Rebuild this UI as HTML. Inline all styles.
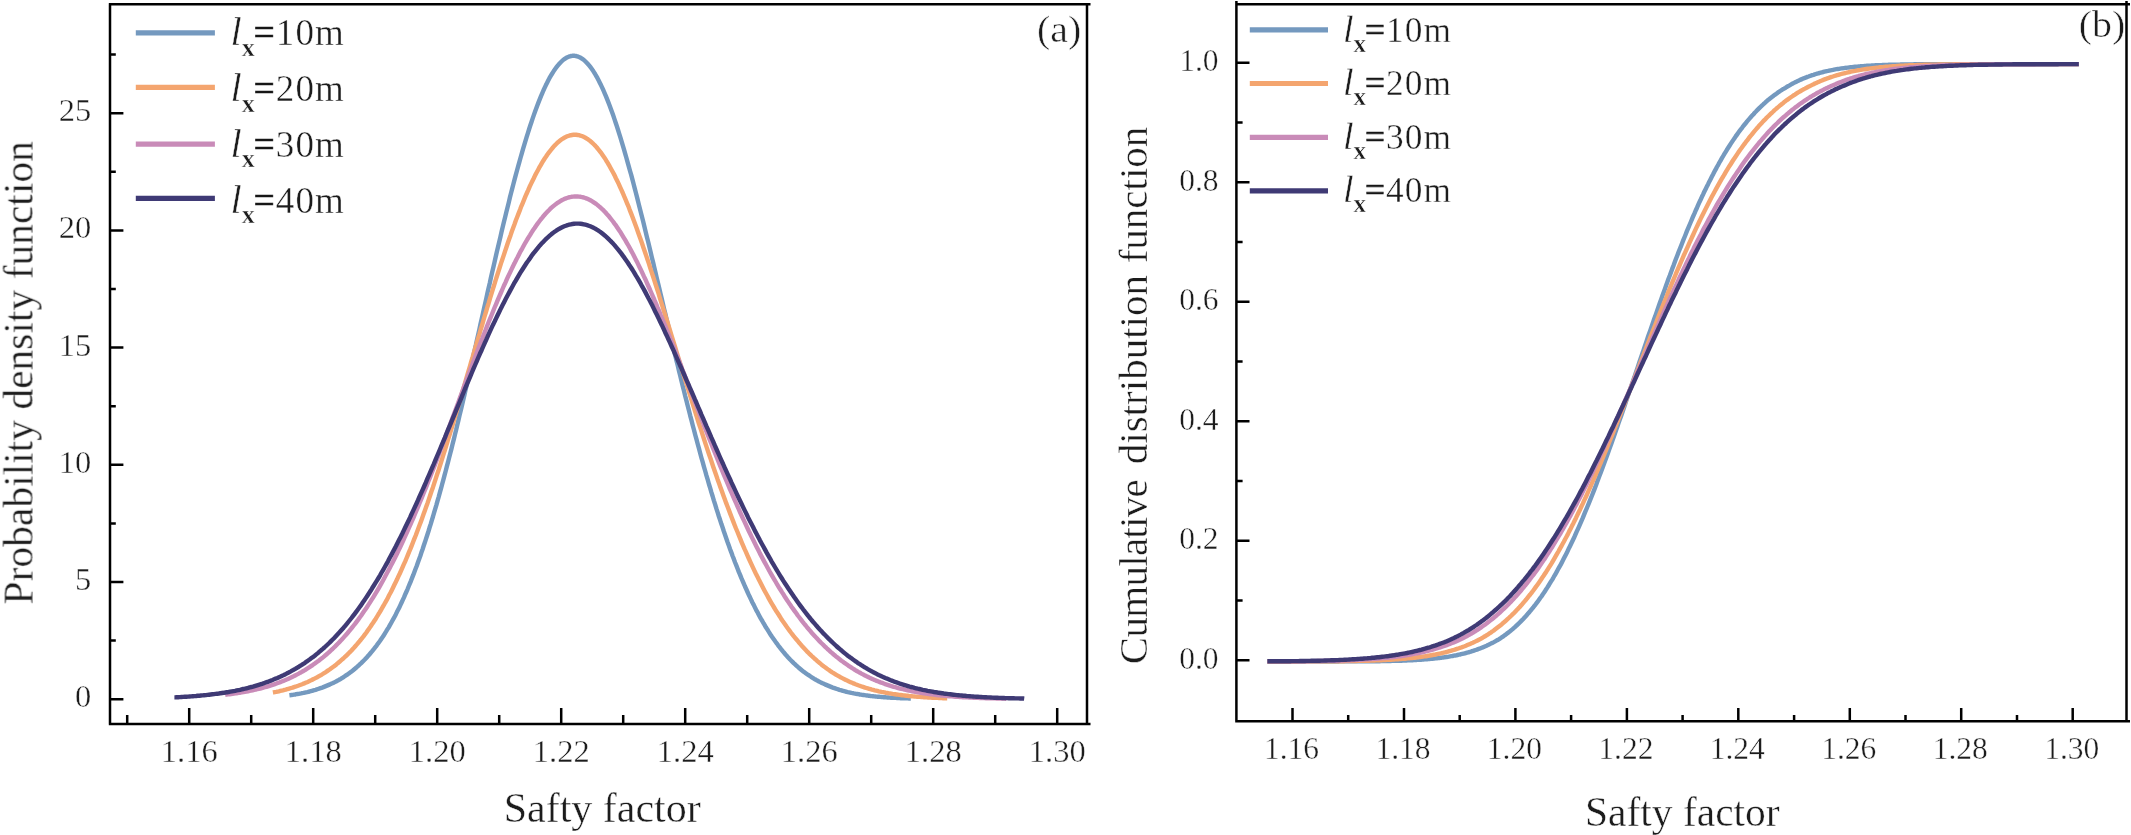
<!DOCTYPE html>
<html lang="en"><head><meta charset="utf-8"><title>Probability density and cumulative distribution of safety factor</title>
<style>html,body{margin:0;padding:0;background:#fff}body{width:2131px;height:835px;overflow:hidden}</style></head>
<body>
<svg width="2131" height="835" viewBox="0 0 2131 835" style="display:block">
<defs><filter id="soft" x="-2%" y="-2%" width="104%" height="104%"><feGaussianBlur stdDeviation="0.55"/></filter></defs>
<rect width="2131" height="835" fill="#fff"/>
<g fill="none" stroke-width="4.4" stroke-linejoin="round" stroke-linecap="butt">
<path stroke="#7499BF" d="M289.4,695.3 L290.3,695.2 L291.5,695.0 L292.7,694.8 L293.9,694.6 L295.1,694.5 L296.3,694.2 L297.5,694.0 L298.7,693.8 L299.9,693.6 L301.1,693.4 L302.3,693.1 L303.6,692.9 L304.8,692.6 L306.0,692.3 L307.2,692.1 L308.4,691.8 L309.6,691.5 L310.8,691.1 L312.0,690.8 L313.2,690.5 L314.4,690.1 L315.6,689.8 L316.8,689.4 L318.0,689.0 L319.2,688.6 L320.4,688.2 L321.6,687.8 L322.8,687.4 L324.0,686.9 L325.2,686.4 L326.4,685.9 L327.6,685.4 L328.8,684.9 L330.0,684.4 L331.2,683.8 L332.4,683.3 L333.6,682.7 L334.8,682.1 L336.0,681.5 L337.2,680.8 L338.4,680.2 L339.6,679.5 L340.8,678.8 L342.0,678.0 L343.2,677.3 L344.4,676.5 L345.6,675.7 L346.8,674.9 L348.0,674.1 L349.2,673.2 L350.4,672.3 L351.6,671.4 L352.8,670.5 L354.0,669.5 L355.2,668.5 L356.4,667.5 L357.6,666.4 L358.8,665.3 L360.0,664.2 L361.2,663.1 L362.4,661.9 L363.6,660.7 L364.8,659.5 L366.0,658.2 L367.2,656.9 L368.4,655.6 L369.6,654.2 L370.8,652.8 L372.0,651.4 L373.2,649.9 L374.4,648.4 L375.6,646.8 L376.8,645.3 L378.0,643.6 L379.2,642.0 L380.4,640.3 L381.6,638.5 L382.8,636.8 L384.0,635.0 L385.1,633.1 L386.3,631.2 L387.5,629.2 L388.7,627.3 L389.9,625.2 L391.0,623.2 L392.2,621.0 L393.4,618.9 L394.6,616.7 L395.8,614.4 L396.9,612.1 L398.1,609.8 L399.3,607.4 L400.5,604.9 L401.6,602.5 L402.8,599.9 L404.0,597.3 L405.1,594.7 L406.3,592.0 L407.5,589.3 L408.6,586.5 L409.8,583.7 L411.0,580.8 L412.1,577.9 L413.3,574.9 L414.4,571.9 L415.6,568.8 L416.8,565.7 L417.9,562.5 L419.1,559.2 L420.3,556.0 L421.4,552.6 L422.6,549.2 L423.7,545.8 L424.9,542.3 L426.0,538.8 L427.2,535.2 L428.4,531.5 L429.5,527.8 L430.7,524.1 L431.8,520.3 L433.0,516.5 L434.1,512.6 L435.3,508.6 L436.5,504.6 L437.6,500.6 L438.8,496.5 L439.9,492.4 L441.1,488.2 L442.2,484.0 L443.4,479.7 L444.5,475.4 L445.7,471.0 L446.8,466.6 L448.0,462.2 L449.1,457.7 L450.3,453.2 L451.5,448.6 L452.6,444.0 L453.8,439.4 L454.9,434.7 L456.1,430.0 L457.2,425.2 L458.4,420.4 L459.5,415.6 L460.7,410.7 L461.9,405.8 L463.0,400.9 L464.2,396.0 L465.3,391.0 L466.5,386.0 L467.6,381.0 L468.8,375.9 L470.0,370.9 L471.1,365.8 L472.3,360.7 L473.4,355.6 L474.6,350.4 L475.8,345.3 L476.9,340.1 L478.1,334.9 L479.3,329.7 L480.4,324.5 L481.6,319.3 L482.8,314.1 L483.9,308.9 L485.1,303.7 L486.3,298.5 L487.4,293.3 L488.6,288.1 L489.8,283.0 L490.9,277.8 L492.1,272.6 L493.3,267.5 L494.5,262.3 L495.6,257.2 L496.8,252.1 L498.0,247.1 L499.2,242.0 L500.4,237.0 L501.5,232.0 L502.7,227.0 L503.9,222.1 L505.1,217.2 L506.3,212.3 L507.5,207.5 L508.7,202.7 L509.8,197.9 L511.0,193.2 L512.2,188.6 L513.4,184.0 L514.6,179.4 L515.8,174.9 L517.0,170.5 L518.2,166.1 L519.4,161.8 L520.6,157.5 L521.8,153.3 L523.0,149.1 L524.2,145.1 L525.4,141.1 L526.6,137.1 L527.8,133.3 L529.0,129.5 L530.2,125.8 L531.4,122.2 L532.6,118.6 L533.8,115.1 L535.0,111.8 L536.2,108.5 L537.4,105.2 L538.6,102.1 L539.8,99.1 L541.0,96.1 L542.2,93.3 L543.4,90.5 L544.6,87.9 L545.8,85.3 L547.0,82.9 L548.2,80.5 L549.4,78.2 L550.6,76.1 L551.9,74.0 L553.1,72.1 L554.3,70.2 L555.5,68.5 L556.7,66.9 L557.9,65.4 L559.1,64.0 L560.3,62.7 L561.5,61.5 L562.7,60.4 L563.9,59.4 L565.1,58.6 L566.3,57.8 L567.5,57.2 L568.7,56.7 L569.9,56.3 L571.1,56.0 L572.3,55.8 L573.5,55.8 L574.7,55.8 L575.9,56.0 L577.1,56.3 L578.3,56.7 L579.5,57.2 L580.7,57.8 L581.9,58.6 L583.1,59.4 L584.3,60.4 L585.5,61.5 L586.7,62.7 L587.9,64.0 L589.1,65.4 L590.3,66.9 L591.5,68.5 L592.7,70.2 L593.9,72.1 L595.1,74.0 L596.3,76.1 L597.5,78.2 L598.7,80.5 L599.9,82.9 L601.1,85.3 L602.3,87.9 L603.5,90.5 L604.7,93.3 L605.9,96.1 L607.1,99.1 L608.3,102.1 L609.5,105.2 L610.7,108.5 L611.9,111.8 L613.1,115.1 L614.3,118.6 L615.5,122.2 L616.7,125.8 L617.9,129.5 L619.1,133.3 L620.3,137.1 L621.5,141.1 L622.7,145.1 L623.9,149.1 L625.1,153.3 L626.3,157.5 L627.5,161.8 L628.7,166.1 L629.9,170.5 L631.2,174.9 L632.4,179.4 L633.6,184.0 L634.8,188.6 L636.0,193.2 L637.2,197.9 L638.4,202.7 L639.6,207.5 L640.8,212.3 L642.1,217.2 L643.3,222.1 L644.5,227.0 L645.7,232.0 L646.9,237.0 L648.2,242.0 L649.4,247.1 L650.6,252.1 L651.8,257.2 L653.1,262.3 L654.3,267.5 L655.5,272.6 L656.7,277.8 L658.0,283.0 L659.2,288.1 L660.4,293.3 L661.7,298.5 L662.9,303.7 L664.1,308.9 L665.4,314.1 L666.6,319.3 L667.9,324.5 L669.1,329.7 L670.3,334.9 L671.6,340.1 L672.8,345.3 L674.0,350.4 L675.3,355.6 L676.5,360.7 L677.8,365.8 L679.0,370.9 L680.3,375.9 L681.5,381.0 L682.7,386.0 L684.0,391.0 L685.2,396.0 L686.5,400.9 L687.7,405.8 L689.0,410.7 L690.2,415.6 L691.5,420.4 L692.7,425.2 L694.0,430.0 L695.2,434.7 L696.5,439.4 L697.7,444.0 L699.0,448.6 L700.2,453.2 L701.4,457.7 L702.7,462.2 L703.9,466.6 L705.2,471.0 L706.4,475.4 L707.7,479.7 L708.9,484.0 L710.2,488.2 L711.4,492.4 L712.7,496.5 L713.9,500.6 L715.2,504.6 L716.4,508.6 L717.7,512.6 L718.9,516.5 L720.2,520.3 L721.4,524.1 L722.7,527.8 L723.9,531.5 L725.2,535.2 L726.4,538.8 L727.6,542.3 L728.9,545.8 L730.1,549.2 L731.4,552.6 L732.6,556.0 L733.9,559.2 L735.1,562.5 L736.4,565.7 L737.6,568.8 L738.8,571.9 L740.1,574.9 L741.3,577.9 L742.6,580.8 L743.8,583.7 L745.0,586.5 L746.3,589.3 L747.5,592.0 L748.7,594.7 L750.0,597.3 L751.2,599.9 L752.4,602.5 L753.7,604.9 L754.9,607.4 L756.1,609.8 L757.4,612.1 L758.6,614.4 L759.8,616.7 L761.0,618.9 L762.3,621.0 L763.5,623.2 L764.7,625.2 L765.9,627.3 L767.2,629.2 L768.4,631.2 L769.6,633.1 L770.8,635.0 L772.0,636.8 L773.2,638.5 L774.5,640.3 L775.7,642.0 L776.9,643.6 L778.1,645.3 L779.3,646.8 L780.5,648.4 L781.7,649.9 L782.9,651.4 L784.1,652.8 L785.3,654.2 L786.5,655.6 L787.7,656.9 L788.9,658.2 L790.1,659.5 L791.3,660.7 L792.5,661.9 L793.7,663.1 L794.9,664.2 L796.1,665.3 L797.3,666.4 L798.5,667.5 L799.7,668.5 L800.9,669.5 L802.1,670.5 L803.3,671.4 L804.5,672.3 L805.7,673.2 L806.9,674.1 L808.2,674.9 L809.4,675.7 L810.6,676.5 L811.8,677.3 L813.0,678.0 L814.2,678.8 L815.4,679.5 L816.6,680.2 L817.8,680.8 L819.0,681.5 L820.2,682.1 L821.4,682.7 L822.6,683.3 L823.8,683.8 L825.0,684.4 L826.2,684.9 L827.4,685.4 L828.6,685.9 L829.8,686.4 L831.0,686.9 L832.2,687.4 L833.4,687.8 L834.6,688.2 L835.8,688.6 L837.0,689.0 L838.2,689.4 L839.4,689.8 L840.6,690.1 L841.8,690.5 L843.0,690.8 L844.2,691.1 L845.4,691.5 L846.6,691.8 L847.8,692.1 L849.0,692.3 L850.2,692.6 L851.4,692.9 L852.6,693.1 L853.8,693.4 L855.0,693.6 L856.2,693.8 L857.4,694.0 L858.6,694.2 L859.8,694.5 L861.0,694.6 L862.2,694.8 L863.4,695.0 L864.6,695.2 L865.8,695.4 L867.0,695.5 L868.2,695.7 L869.4,695.8 L870.6,696.0 L871.8,696.1 L873.0,696.2 L874.2,696.4 L875.4,696.5 L876.6,696.6 L877.8,696.7 L879.0,696.8 L880.2,696.9 L881.4,697.0 L882.6,697.1 L883.8,697.2 L885.0,697.3 L886.2,697.4 L887.4,697.5 L888.6,697.5 L889.8,697.6 L891.0,697.7 L892.3,697.8 L893.5,697.8 L894.7,697.9 L895.9,697.9 L897.1,698.0 L898.3,698.1 L899.5,698.1 L900.7,698.2 L901.9,698.2 L903.1,698.3 L904.3,698.3 L905.5,698.3 L906.7,698.4 L907.9,698.4 L909.1,698.5 L910.3,698.5 L910.8,698.5"/>
<path stroke="#F4A56F" d="M272.9,692.5 L273.4,692.4 L274.8,692.1 L276.2,691.9 L277.5,691.6 L278.9,691.3 L280.3,690.9 L281.6,690.6 L283.0,690.3 L284.4,689.9 L285.8,689.6 L287.1,689.2 L288.5,688.8 L289.9,688.4 L291.2,688.0 L292.6,687.6 L294.0,687.1 L295.3,686.7 L296.7,686.2 L298.1,685.7 L299.4,685.2 L300.8,684.7 L302.2,684.2 L303.6,683.6 L304.9,683.1 L306.3,682.5 L307.7,681.9 L309.0,681.3 L310.4,680.6 L311.8,680.0 L313.1,679.3 L314.5,678.6 L315.9,677.9 L317.3,677.2 L318.6,676.4 L320.0,675.6 L321.4,674.8 L322.7,674.0 L324.1,673.1 L325.5,672.3 L326.8,671.4 L328.2,670.4 L329.6,669.5 L330.9,668.5 L332.3,667.5 L333.7,666.5 L335.1,665.4 L336.4,664.4 L337.8,663.2 L339.2,662.1 L340.5,660.9 L341.9,659.7 L343.3,658.5 L344.6,657.2 L346.0,656.0 L347.4,654.6 L348.7,653.3 L350.1,651.9 L351.5,650.5 L352.8,649.0 L354.2,647.5 L355.5,646.0 L356.9,644.4 L358.2,642.8 L359.6,641.2 L361.0,639.5 L362.3,637.8 L363.7,636.1 L365.0,634.3 L366.4,632.5 L367.7,630.6 L369.0,628.7 L370.4,626.8 L371.7,624.8 L373.1,622.8 L374.4,620.8 L375.8,618.7 L377.1,616.5 L378.4,614.3 L379.8,612.1 L381.1,609.8 L382.4,607.5 L383.8,605.2 L385.1,602.8 L386.5,600.4 L387.8,597.9 L389.1,595.3 L390.5,592.8 L391.8,590.2 L393.1,587.5 L394.4,584.8 L395.8,582.0 L397.1,579.3 L398.4,576.4 L399.8,573.5 L401.1,570.6 L402.4,567.6 L403.7,564.6 L405.1,561.6 L406.4,558.5 L407.7,555.3 L409.0,552.1 L410.4,548.9 L411.7,545.6 L413.0,542.3 L414.3,538.9 L415.7,535.5 L417.0,532.0 L418.3,528.5 L419.6,525.0 L421.0,521.4 L422.3,517.8 L423.6,514.1 L424.9,510.4 L426.2,506.7 L427.6,502.9 L428.9,499.1 L430.2,495.2 L431.5,491.3 L432.9,487.4 L434.2,483.4 L435.5,479.4 L436.8,475.3 L438.2,471.3 L439.5,467.2 L440.8,463.0 L442.1,458.8 L443.4,454.6 L444.8,450.4 L446.1,446.1 L447.4,441.9 L448.7,437.5 L450.1,433.2 L451.4,428.8 L452.7,424.5 L454.0,420.1 L455.4,415.6 L456.7,411.2 L458.0,406.7 L459.4,402.2 L460.7,397.7 L462.0,393.2 L463.4,388.7 L464.7,384.2 L466.0,379.6 L467.3,375.1 L468.7,370.5 L470.0,366.0 L471.3,361.4 L472.7,356.9 L474.0,352.3 L475.4,347.7 L476.7,343.2 L478.0,338.6 L479.4,334.1 L480.7,329.5 L482.1,325.0 L483.4,320.5 L484.7,316.0 L486.1,311.5 L487.4,307.0 L488.8,302.6 L490.1,298.1 L491.5,293.7 L492.8,289.3 L494.2,285.0 L495.5,280.6 L496.9,276.3 L498.2,272.1 L499.6,267.8 L500.9,263.6 L502.3,259.5 L503.7,255.4 L505.0,251.3 L506.4,247.2 L507.7,243.2 L509.1,239.3 L510.5,235.4 L511.8,231.5 L513.2,227.7 L514.6,224.0 L515.9,220.3 L517.3,216.7 L518.7,213.1 L520.1,209.6 L521.4,206.1 L522.8,202.8 L524.2,199.4 L525.5,196.2 L526.9,193.0 L528.3,189.9 L529.6,186.8 L531.0,183.9 L532.4,181.0 L533.8,178.2 L535.1,175.4 L536.5,172.8 L537.9,170.2 L539.2,167.7 L540.6,165.3 L542.0,162.9 L543.3,160.7 L544.7,158.5 L546.1,156.5 L547.4,154.5 L548.8,152.6 L550.2,150.8 L551.6,149.1 L552.9,147.5 L554.3,145.9 L555.7,144.5 L557.0,143.2 L558.4,141.9 L559.8,140.8 L561.1,139.8 L562.5,138.8 L563.9,138.0 L565.3,137.2 L566.6,136.6 L568.0,136.0 L569.4,135.6 L570.7,135.2 L572.1,135.0 L573.5,134.8 L574.8,134.8 L576.2,134.8 L577.6,135.0 L578.9,135.2 L580.3,135.6 L581.7,136.0 L583.1,136.6 L584.4,137.2 L585.8,138.0 L587.2,138.8 L588.5,139.8 L589.9,140.8 L591.3,141.9 L592.6,143.2 L594.0,144.5 L595.4,145.9 L596.8,147.5 L598.1,149.1 L599.5,150.8 L600.9,152.6 L602.2,154.5 L603.6,156.5 L605.0,158.5 L606.3,160.7 L607.7,162.9 L609.1,165.3 L610.4,167.7 L611.8,170.2 L613.2,172.8 L614.6,175.4 L615.9,178.2 L617.3,181.0 L618.7,183.9 L620.0,186.8 L621.4,189.9 L622.8,193.0 L624.1,196.2 L625.5,199.4 L626.9,202.8 L628.3,206.1 L629.6,209.6 L631.0,213.1 L632.4,216.7 L633.7,220.3 L635.1,224.0 L636.5,227.7 L637.8,231.5 L639.2,235.4 L640.6,239.3 L642.0,243.2 L643.3,247.2 L644.7,251.3 L646.1,255.4 L647.5,259.5 L648.9,263.6 L650.2,267.8 L651.6,272.1 L653.0,276.3 L654.4,280.6 L655.8,285.0 L657.2,289.3 L658.6,293.7 L659.9,298.1 L661.3,302.6 L662.7,307.0 L664.1,311.5 L665.5,316.0 L666.9,320.5 L668.3,325.0 L669.7,329.5 L671.1,334.1 L672.5,338.6 L673.9,343.2 L675.3,347.7 L676.7,352.3 L678.1,356.9 L679.5,361.4 L680.9,366.0 L682.3,370.5 L683.7,375.1 L685.1,379.6 L686.6,384.2 L688.0,388.7 L689.4,393.2 L690.8,397.7 L692.2,402.2 L693.6,406.7 L695.0,411.2 L696.4,415.6 L697.8,420.1 L699.2,424.5 L700.7,428.8 L702.1,433.2 L703.5,437.5 L704.9,441.9 L706.3,446.1 L707.7,450.4 L709.1,454.6 L710.6,458.8 L712.0,463.0 L713.4,467.2 L714.8,471.3 L716.2,475.3 L717.6,479.4 L719.1,483.4 L720.5,487.4 L721.9,491.3 L723.3,495.2 L724.7,499.1 L726.1,502.9 L727.6,506.7 L729.0,510.4 L730.4,514.1 L731.8,517.8 L733.2,521.4 L734.6,525.0 L736.0,528.5 L737.5,532.0 L738.9,535.5 L740.3,538.9 L741.7,542.3 L743.1,545.6 L744.5,548.9 L746.0,552.1 L747.4,555.3 L748.8,558.5 L750.2,561.6 L751.6,564.6 L753.0,567.6 L754.4,570.6 L755.8,573.5 L757.3,576.4 L758.7,579.3 L760.1,582.0 L761.5,584.8 L762.9,587.5 L764.3,590.2 L765.7,592.8 L767.1,595.3 L768.5,597.9 L769.9,600.4 L771.3,602.8 L772.7,605.2 L774.1,607.5 L775.5,609.8 L776.9,612.1 L778.4,614.3 L779.8,616.5 L781.1,618.7 L782.5,620.8 L783.9,622.8 L785.3,624.8 L786.7,626.8 L788.1,628.7 L789.5,630.6 L790.9,632.5 L792.3,634.3 L793.7,636.1 L795.1,637.8 L796.5,639.5 L797.9,641.2 L799.2,642.8 L800.6,644.4 L802.0,646.0 L803.4,647.5 L804.8,649.0 L806.2,650.5 L807.5,651.9 L808.9,653.3 L810.3,654.6 L811.7,656.0 L813.0,657.2 L814.4,658.5 L815.8,659.7 L817.1,660.9 L818.5,662.1 L819.9,663.2 L821.3,664.4 L822.6,665.4 L824.0,666.5 L825.4,667.5 L826.7,668.5 L828.1,669.5 L829.5,670.4 L830.8,671.4 L832.2,672.3 L833.6,673.1 L834.9,674.0 L836.3,674.8 L837.7,675.6 L839.1,676.4 L840.4,677.2 L841.8,677.9 L843.2,678.6 L844.5,679.3 L845.9,680.0 L847.3,680.6 L848.6,681.3 L850.0,681.9 L851.4,682.5 L852.8,683.1 L854.1,683.6 L855.5,684.2 L856.9,684.7 L858.2,685.2 L859.6,685.7 L861.0,686.2 L862.3,686.7 L863.7,687.1 L865.1,687.6 L866.4,688.0 L867.8,688.4 L869.2,688.8 L870.6,689.2 L871.9,689.6 L873.3,689.9 L874.7,690.3 L876.0,690.6 L877.4,690.9 L878.8,691.3 L880.1,691.6 L881.5,691.9 L882.9,692.1 L884.3,692.4 L885.6,692.7 L887.0,692.9 L888.4,693.2 L889.7,693.4 L891.1,693.6 L892.5,693.9 L893.8,694.1 L895.2,694.3 L896.6,694.5 L897.9,694.7 L899.3,694.9 L900.7,695.0 L902.1,695.2 L903.4,695.4 L904.8,695.5 L906.2,695.7 L907.5,695.8 L908.9,696.0 L910.3,696.1 L911.6,696.2 L913.0,696.4 L914.4,696.5 L915.8,696.6 L917.1,696.7 L918.5,696.8 L919.9,696.9 L921.2,697.0 L922.6,697.1 L924.0,697.2 L925.3,697.3 L926.7,697.4 L928.1,697.5 L929.4,697.5 L930.8,697.6 L932.2,697.7 L933.6,697.7 L934.9,697.8 L936.3,697.9 L937.7,697.9 L939.0,698.0 L940.4,698.0 L941.8,698.1 L943.1,698.2 L944.5,698.2 L945.9,698.2 L947.3,698.3 L947.3,698.3"/>
<path stroke="#C98BB8" d="M225.2,694.8 L226.5,694.6 L228.0,694.4 L229.5,694.3 L231.1,694.0 L232.6,693.8 L234.1,693.6 L235.7,693.4 L237.2,693.2 L238.8,692.9 L240.3,692.7 L241.8,692.4 L243.4,692.1 L244.9,691.8 L246.4,691.6 L248.0,691.3 L249.5,690.9 L251.1,690.6 L252.6,690.3 L254.1,689.9 L255.7,689.6 L257.2,689.2 L258.7,688.8 L260.3,688.5 L261.8,688.1 L263.4,687.6 L264.9,687.2 L266.4,686.8 L268.0,686.3 L269.5,685.8 L271.0,685.3 L272.6,684.8 L274.1,684.3 L275.7,683.8 L277.2,683.2 L278.7,682.7 L280.3,682.1 L281.8,681.5 L283.3,680.9 L284.9,680.2 L286.4,679.6 L288.0,678.9 L289.5,678.2 L291.0,677.5 L292.6,676.7 L294.1,676.0 L295.6,675.2 L297.2,674.4 L298.7,673.6 L300.3,672.7 L301.8,671.9 L303.3,671.0 L304.9,670.1 L306.4,669.1 L307.9,668.2 L309.5,667.2 L311.0,666.2 L312.6,665.1 L314.1,664.0 L315.6,662.9 L317.2,661.8 L318.7,660.7 L320.2,659.5 L321.8,658.3 L323.3,657.1 L324.8,655.8 L326.4,654.5 L327.9,653.2 L329.4,651.8 L330.9,650.4 L332.5,649.0 L334.0,647.5 L335.5,646.1 L337.0,644.5 L338.5,643.0 L340.0,641.4 L341.6,639.8 L343.1,638.1 L344.6,636.4 L346.1,634.7 L347.6,633.0 L349.1,631.2 L350.6,629.3 L352.1,627.5 L353.7,625.5 L355.2,623.6 L356.7,621.6 L358.2,619.6 L359.7,617.5 L361.2,615.5 L362.7,613.3 L364.2,611.1 L365.7,608.9 L367.2,606.7 L368.7,604.4 L370.2,602.1 L371.7,599.7 L373.2,597.3 L374.7,594.8 L376.2,592.4 L377.7,589.8 L379.2,587.3 L380.7,584.7 L382.2,582.0 L383.7,579.3 L385.1,576.6 L386.6,573.8 L388.1,571.0 L389.6,568.2 L391.1,565.3 L392.6,562.4 L394.1,559.4 L395.6,556.4 L397.1,553.4 L398.6,550.3 L400.1,547.2 L401.6,544.0 L403.1,540.8 L404.5,537.6 L406.0,534.3 L407.5,531.0 L409.0,527.7 L410.5,524.3 L412.0,520.9 L413.5,517.5 L415.0,514.0 L416.5,510.5 L418.0,507.0 L419.4,503.4 L420.9,499.8 L422.4,496.2 L423.9,492.5 L425.4,488.8 L426.9,485.1 L428.4,481.3 L429.9,477.6 L431.4,473.8 L432.9,470.0 L434.4,466.1 L435.9,462.3 L437.4,458.4 L438.8,454.5 L440.3,450.5 L441.8,446.6 L443.3,442.6 L444.8,438.7 L446.3,434.7 L447.8,430.7 L449.3,426.7 L450.8,422.6 L452.3,418.6 L453.8,414.5 L455.3,410.5 L456.8,406.4 L458.3,402.4 L459.8,398.3 L461.3,394.2 L462.8,390.2 L464.3,386.1 L465.8,382.1 L467.3,378.0 L468.9,373.9 L470.4,369.9 L471.9,365.9 L473.4,361.8 L474.9,357.8 L476.4,353.8 L477.9,349.8 L479.4,345.9 L480.9,341.9 L482.5,338.0 L484.0,334.1 L485.5,330.2 L487.0,326.4 L488.5,322.5 L490.1,318.7 L491.6,315.0 L493.1,311.2 L494.6,307.5 L496.2,303.8 L497.7,300.2 L499.2,296.6 L500.8,293.0 L502.3,289.5 L503.8,286.0 L505.4,282.6 L506.9,279.2 L508.4,275.9 L510.0,272.6 L511.5,269.4 L513.0,266.2 L514.6,263.1 L516.1,260.0 L517.7,257.0 L519.2,254.0 L520.7,251.1 L522.3,248.3 L523.8,245.5 L525.3,242.8 L526.9,240.2 L528.4,237.6 L530.0,235.1 L531.5,232.6 L533.0,230.3 L534.6,228.0 L536.1,225.7 L537.6,223.6 L539.2,221.5 L540.7,219.5 L542.3,217.6 L543.8,215.7 L545.3,214.0 L546.9,212.3 L548.4,210.7 L549.9,209.2 L551.5,207.7 L553.0,206.4 L554.6,205.1 L556.1,203.9 L557.6,202.8 L559.2,201.8 L560.7,200.9 L562.2,200.0 L563.8,199.3 L565.3,198.6 L566.9,198.0 L568.4,197.5 L569.9,197.1 L571.5,196.8 L573.0,196.6 L574.5,196.5 L576.1,196.4 L577.6,196.5 L579.2,196.6 L580.7,196.8 L582.2,197.1 L583.8,197.5 L585.3,198.0 L586.8,198.6 L588.4,199.3 L589.9,200.0 L591.5,200.9 L593.0,201.8 L594.5,202.8 L596.1,203.9 L597.6,205.1 L599.1,206.4 L600.7,207.7 L602.2,209.2 L603.8,210.7 L605.3,212.3 L606.8,214.0 L608.4,215.7 L609.9,217.6 L611.4,219.5 L613.0,221.5 L614.5,223.6 L616.1,225.7 L617.6,228.0 L619.1,230.3 L620.7,232.6 L622.2,235.1 L623.7,237.6 L625.3,240.2 L626.8,242.8 L628.4,245.5 L629.9,248.3 L631.4,251.1 L633.0,254.0 L634.5,257.0 L636.0,260.0 L637.6,263.1 L639.1,266.2 L640.7,269.4 L642.2,272.6 L643.7,275.9 L645.3,279.2 L646.8,282.6 L648.3,286.0 L649.9,289.5 L651.4,293.0 L653.0,296.6 L654.5,300.2 L656.1,303.8 L657.6,307.5 L659.2,311.2 L660.7,315.0 L662.3,318.7 L663.8,322.5 L665.4,326.4 L666.9,330.2 L668.5,334.1 L670.0,338.0 L671.6,341.9 L673.2,345.9 L674.7,349.8 L676.3,353.8 L677.8,357.8 L679.4,361.8 L681.0,365.9 L682.5,369.9 L684.1,373.9 L685.7,378.0 L687.2,382.1 L688.8,386.1 L690.4,390.2 L692.0,394.2 L693.5,398.3 L695.1,402.4 L696.7,406.4 L698.2,410.5 L699.8,414.5 L701.4,418.6 L703.0,422.6 L704.5,426.7 L706.1,430.7 L707.7,434.7 L709.3,438.7 L710.9,442.6 L712.4,446.6 L714.0,450.5 L715.6,454.5 L717.2,458.4 L718.8,462.3 L720.3,466.1 L721.9,470.0 L723.5,473.8 L725.1,477.6 L726.7,481.3 L728.3,485.1 L729.8,488.8 L731.4,492.5 L733.0,496.2 L734.6,499.8 L736.2,503.4 L737.8,507.0 L739.3,510.5 L740.9,514.0 L742.5,517.5 L744.1,520.9 L745.7,524.3 L747.3,527.7 L748.8,531.0 L750.4,534.3 L752.0,537.6 L753.6,540.8 L755.2,544.0 L756.8,547.2 L758.4,550.3 L759.9,553.4 L761.5,556.4 L763.1,559.4 L764.7,562.4 L766.3,565.3 L767.9,568.2 L769.4,571.0 L771.0,573.8 L772.6,576.6 L774.2,579.3 L775.8,582.0 L777.3,584.7 L778.9,587.3 L780.5,589.8 L782.1,592.4 L783.7,594.8 L785.2,597.3 L786.8,599.7 L788.4,602.1 L790.0,604.4 L791.5,606.7 L793.1,608.9 L794.7,611.1 L796.3,613.3 L797.8,615.5 L799.4,617.5 L801.0,619.6 L802.5,621.6 L804.1,623.6 L805.7,625.5 L807.2,627.5 L808.8,629.3 L810.4,631.2 L811.9,633.0 L813.5,634.7 L815.1,636.4 L816.6,638.1 L818.2,639.8 L819.7,641.4 L821.3,643.0 L822.9,644.5 L824.4,646.1 L826.0,647.5 L827.5,649.0 L829.1,650.4 L830.6,651.8 L832.2,653.2 L833.7,654.5 L835.3,655.8 L836.8,657.1 L838.4,658.3 L839.9,659.5 L841.4,660.7 L843.0,661.8 L844.5,662.9 L846.1,664.0 L847.6,665.1 L849.1,666.2 L850.7,667.2 L852.2,668.2 L853.8,669.1 L855.3,670.1 L856.8,671.0 L858.4,671.9 L859.9,672.7 L861.4,673.6 L863.0,674.4 L864.5,675.2 L866.1,676.0 L867.6,676.7 L869.1,677.5 L870.7,678.2 L872.2,678.9 L873.7,679.6 L875.3,680.2 L876.8,680.9 L878.4,681.5 L879.9,682.1 L881.4,682.7 L883.0,683.2 L884.5,683.8 L886.0,684.3 L887.6,684.8 L889.1,685.3 L890.7,685.8 L892.2,686.3 L893.7,686.8 L895.3,687.2 L896.8,687.6 L898.3,688.1 L899.9,688.5 L901.4,688.8 L903.0,689.2 L904.5,689.6 L906.0,689.9 L907.6,690.3 L909.1,690.6 L910.6,690.9 L912.2,691.3 L913.7,691.6 L915.3,691.8 L916.8,692.1 L918.3,692.4 L919.9,692.7 L921.4,692.9 L922.9,693.2 L924.5,693.4 L926.0,693.6 L927.6,693.8 L929.1,694.0 L930.6,694.3 L932.2,694.4 L933.7,694.6 L935.2,694.8 L936.8,695.0 L938.3,695.2 L939.9,695.3 L941.4,695.5 L942.9,695.6 L944.5,695.8 L946.0,695.9 L947.5,696.1 L949.1,696.2 L950.6,696.3 L952.2,696.4 L953.7,696.6 L955.2,696.7 L956.8,696.8 L958.3,696.9 L959.8,697.0 L961.4,697.1 L962.9,697.2 L964.5,697.3 L966.0,697.3 L967.5,697.4 L969.1,697.5 L970.6,697.6 L972.1,697.6 L973.7,697.7 L975.2,697.8 L976.8,697.8 L978.3,697.9 L979.8,698.0 L981.4,698.0 L982.9,698.1 L984.4,698.1 L986.0,698.2 L987.5,698.2 L989.1,698.3 L990.6,698.3 L992.1,698.4 L993.7,698.4 L995.2,698.4 L996.7,698.5 L998.3,698.5 L999.8,698.5 L1001.4,698.6 L1002.9,698.6 L1004.4,698.6 L1006.0,698.7 L1006.2,698.7"/>
<path stroke="#3F3A75" d="M174.4,697.4 L175.0,697.4 L176.6,697.3 L178.2,697.2 L179.8,697.1 L181.5,697.0 L183.1,696.9 L184.7,696.8 L186.3,696.7 L188.0,696.6 L189.6,696.5 L191.2,696.4 L192.9,696.2 L194.5,696.1 L196.1,696.0 L197.7,695.8 L199.4,695.7 L201.0,695.5 L202.6,695.4 L204.2,695.2 L205.9,695.1 L207.5,694.9 L209.1,694.7 L210.7,694.5 L212.4,694.3 L214.0,694.1 L215.6,693.9 L217.2,693.7 L218.9,693.5 L220.5,693.2 L222.1,693.0 L223.7,692.8 L225.4,692.5 L227.0,692.2 L228.6,692.0 L230.2,691.7 L231.9,691.4 L233.5,691.1 L235.1,690.8 L236.7,690.4 L238.4,690.1 L240.0,689.8 L241.6,689.4 L243.2,689.0 L244.9,688.7 L246.5,688.3 L248.1,687.9 L249.7,687.4 L251.4,687.0 L253.0,686.6 L254.6,686.1 L256.2,685.6 L257.9,685.1 L259.5,684.6 L261.1,684.1 L262.7,683.6 L264.4,683.0 L266.0,682.4 L267.6,681.9 L269.2,681.2 L270.9,680.6 L272.5,680.0 L274.1,679.3 L275.7,678.6 L277.4,678.0 L279.0,677.2 L280.6,676.5 L282.2,675.7 L283.9,675.0 L285.5,674.2 L287.1,673.3 L288.7,672.5 L290.4,671.6 L292.0,670.7 L293.6,669.8 L295.3,668.9 L296.9,667.9 L298.5,667.0 L300.1,665.9 L301.8,664.9 L303.4,663.8 L305.0,662.8 L306.6,661.6 L308.2,660.5 L309.9,659.3 L311.5,658.1 L313.1,656.9 L314.7,655.7 L316.3,654.4 L317.9,653.1 L319.5,651.7 L321.1,650.3 L322.8,648.9 L324.4,647.5 L326.0,646.0 L327.6,644.5 L329.2,643.0 L330.8,641.4 L332.4,639.8 L334.0,638.2 L335.6,636.5 L337.2,634.8 L338.8,633.1 L340.4,631.3 L342.0,629.5 L343.6,627.7 L345.2,625.8 L346.8,623.9 L348.3,622.0 L349.9,620.0 L351.5,618.0 L353.1,615.9 L354.7,613.8 L356.3,611.7 L357.9,609.5 L359.5,607.3 L361.1,605.1 L362.6,602.8 L364.2,600.5 L365.8,598.1 L367.4,595.7 L369.0,593.3 L370.6,590.8 L372.1,588.3 L373.7,585.8 L375.3,583.2 L376.9,580.6 L378.5,578.0 L380.1,575.3 L381.6,572.5 L383.2,569.8 L384.8,567.0 L386.4,564.1 L388.0,561.3 L389.5,558.3 L391.1,555.4 L392.7,552.4 L394.3,549.4 L395.9,546.3 L397.4,543.2 L399.0,540.1 L400.6,537.0 L402.2,533.8 L403.7,530.6 L405.3,527.3 L406.9,524.0 L408.5,520.7 L410.1,517.4 L411.6,514.0 L413.2,510.6 L414.8,507.1 L416.4,503.7 L418.0,500.2 L419.5,496.7 L421.1,493.1 L422.7,489.6 L424.3,486.0 L425.9,482.4 L427.4,478.7 L429.0,475.1 L430.6,471.4 L432.2,467.7 L433.8,464.0 L435.3,460.3 L436.9,456.5 L438.5,452.8 L440.1,449.0 L441.7,445.2 L443.3,441.4 L444.9,437.6 L446.4,433.8 L448.0,429.9 L449.6,426.1 L451.2,422.3 L452.8,418.4 L454.4,414.6 L456.0,410.7 L457.6,406.9 L459.2,403.0 L460.8,399.2 L462.3,395.4 L463.9,391.5 L465.5,387.7 L467.1,383.9 L468.7,380.1 L470.3,376.3 L471.9,372.5 L473.5,368.7 L475.1,365.0 L476.7,361.3 L478.3,357.5 L479.9,353.8 L481.6,350.2 L483.2,346.5 L484.8,342.9 L486.4,339.3 L488.0,335.7 L489.6,332.2 L491.2,328.7 L492.8,325.2 L494.5,321.8 L496.1,318.4 L497.7,315.0 L499.3,311.7 L500.9,308.4 L502.6,305.1 L504.2,301.9 L505.8,298.8 L507.4,295.7 L509.1,292.6 L510.7,289.6 L512.3,286.7 L513.9,283.7 L515.6,280.9 L517.2,278.1 L518.8,275.4 L520.4,272.7 L522.1,270.0 L523.7,267.5 L525.3,265.0 L526.9,262.5 L528.6,260.2 L530.2,257.9 L531.8,255.6 L533.4,253.4 L535.1,251.3 L536.7,249.3 L538.3,247.3 L539.9,245.4 L541.6,243.6 L543.2,241.9 L544.8,240.2 L546.4,238.6 L548.1,237.1 L549.7,235.7 L551.3,234.3 L552.9,233.0 L554.6,231.8 L556.2,230.7 L557.8,229.7 L559.4,228.7 L561.1,227.8 L562.7,227.0 L564.3,226.3 L565.9,225.7 L567.6,225.1 L569.2,224.7 L570.8,224.3 L572.4,224.0 L574.1,223.8 L575.7,223.6 L577.3,223.6 L578.9,223.6 L580.6,223.8 L582.2,224.0 L583.8,224.3 L585.4,224.7 L587.1,225.1 L588.7,225.7 L590.3,226.3 L591.9,227.0 L593.6,227.8 L595.2,228.7 L596.8,229.7 L598.5,230.7 L600.1,231.8 L601.7,233.0 L603.3,234.3 L605.0,235.7 L606.6,237.1 L608.2,238.6 L609.8,240.2 L611.5,241.9 L613.1,243.6 L614.7,245.4 L616.3,247.3 L618.0,249.3 L619.6,251.3 L621.2,253.4 L622.8,255.6 L624.5,257.9 L626.1,260.2 L627.7,262.5 L629.3,265.0 L631.0,267.5 L632.6,270.0 L634.2,272.7 L635.8,275.4 L637.5,278.1 L639.1,280.9 L640.7,283.7 L642.3,286.7 L644.0,289.6 L645.6,292.6 L647.2,295.7 L648.8,298.8 L650.5,301.9 L652.1,305.1 L653.7,308.4 L655.3,311.7 L657.0,315.0 L658.6,318.4 L660.2,321.8 L661.9,325.2 L663.5,328.7 L665.1,332.2 L666.8,335.7 L668.4,339.3 L670.1,342.9 L671.7,346.5 L673.4,350.2 L675.0,353.8 L676.6,357.5 L678.3,361.3 L679.9,365.0 L681.6,368.7 L683.2,372.5 L684.9,376.3 L686.5,380.1 L688.2,383.9 L689.8,387.7 L691.5,391.5 L693.2,395.4 L694.8,399.2 L696.5,403.0 L698.1,406.9 L699.8,410.7 L701.4,414.6 L703.1,418.4 L704.8,422.3 L706.4,426.1 L708.1,429.9 L709.8,433.8 L711.4,437.6 L713.1,441.4 L714.7,445.2 L716.4,449.0 L718.1,452.8 L719.7,456.5 L721.4,460.3 L723.1,464.0 L724.7,467.7 L726.4,471.4 L728.1,475.1 L729.8,478.7 L731.4,482.4 L733.1,486.0 L734.8,489.6 L736.4,493.1 L738.1,496.7 L739.8,500.2 L741.5,503.7 L743.1,507.1 L744.8,510.6 L746.5,514.0 L748.1,517.4 L749.8,520.7 L751.5,524.0 L753.2,527.3 L754.8,530.6 L756.5,533.8 L758.2,537.0 L759.8,540.1 L761.5,543.2 L763.2,546.3 L764.9,549.4 L766.5,552.4 L768.2,555.4 L769.9,558.3 L771.5,561.3 L773.2,564.1 L774.9,567.0 L776.6,569.8 L778.2,572.5 L779.9,575.3 L781.6,578.0 L783.2,580.6 L784.9,583.2 L786.6,585.8 L788.2,588.3 L789.9,590.8 L791.6,593.3 L793.3,595.7 L794.9,598.1 L796.6,600.5 L798.2,602.8 L799.9,605.1 L801.6,607.3 L803.2,609.5 L804.9,611.7 L806.6,613.8 L808.2,615.9 L809.9,618.0 L811.5,620.0 L813.2,622.0 L814.9,623.9 L816.5,625.8 L818.2,627.7 L819.8,629.5 L821.5,631.3 L823.1,633.1 L824.8,634.8 L826.5,636.5 L828.1,638.2 L829.8,639.8 L831.4,641.4 L833.1,643.0 L834.7,644.5 L836.3,646.0 L838.0,647.5 L839.6,648.9 L841.3,650.3 L842.9,651.7 L844.6,653.1 L846.2,654.4 L847.8,655.7 L849.5,656.9 L851.1,658.1 L852.7,659.3 L854.4,660.5 L856.0,661.6 L857.6,662.8 L859.3,663.8 L860.9,664.9 L862.5,665.9 L864.1,667.0 L865.8,667.9 L867.4,668.9 L869.0,669.8 L870.6,670.7 L872.3,671.6 L873.9,672.5 L875.5,673.3 L877.1,674.2 L878.8,675.0 L880.4,675.7 L882.0,676.5 L883.6,677.2 L885.3,678.0 L886.9,678.6 L888.5,679.3 L890.1,680.0 L891.8,680.6 L893.4,681.2 L895.0,681.9 L896.6,682.4 L898.3,683.0 L899.9,683.6 L901.5,684.1 L903.1,684.6 L904.8,685.1 L906.4,685.6 L908.0,686.1 L909.6,686.6 L911.3,687.0 L912.9,687.4 L914.5,687.9 L916.2,688.3 L917.8,688.7 L919.4,689.0 L921.0,689.4 L922.7,689.8 L924.3,690.1 L925.9,690.4 L927.5,690.8 L929.2,691.1 L930.8,691.4 L932.4,691.7 L934.0,692.0 L935.7,692.2 L937.3,692.5 L938.9,692.8 L940.5,693.0 L942.2,693.2 L943.8,693.5 L945.4,693.7 L947.0,693.9 L948.7,694.1 L950.3,694.3 L951.9,694.5 L953.5,694.7 L955.2,694.9 L956.8,695.1 L958.4,695.2 L960.0,695.4 L961.7,695.5 L963.3,695.7 L964.9,695.8 L966.5,696.0 L968.2,696.1 L969.8,696.2 L971.4,696.4 L973.0,696.5 L974.7,696.6 L976.3,696.7 L977.9,696.8 L979.5,696.9 L981.2,697.0 L982.8,697.1 L984.4,697.2 L986.0,697.3 L987.7,697.4 L989.3,697.4 L990.9,697.5 L992.5,697.6 L994.2,697.7 L995.8,697.7 L997.4,697.8 L999.0,697.9 L1000.7,697.9 L1002.3,698.0 L1003.9,698.0 L1005.5,698.1 L1007.2,698.1 L1008.8,698.2 L1010.4,698.2 L1012.0,698.3 L1013.7,698.3 L1015.3,698.4 L1016.9,698.4 L1018.6,698.4 L1020.2,698.5 L1021.8,698.5 L1023.4,698.5 L1024.2,698.6"/>
<path stroke="#7499BF" d="M1267.4,661.5 L1268.0,661.5 L1269.2,661.5 L1270.4,661.5 L1271.6,661.5 L1272.8,661.5 L1274.0,661.5 L1275.3,661.5 L1276.5,661.5 L1277.7,661.5 L1278.9,661.5 L1280.1,661.5 L1281.3,661.5 L1282.5,661.5 L1283.8,661.5 L1285.0,661.5 L1286.2,661.5 L1287.4,661.5 L1288.6,661.5 L1289.8,661.5 L1291.0,661.5 L1292.3,661.5 L1293.5,661.5 L1294.7,661.5 L1295.9,661.5 L1297.1,661.5 L1298.3,661.5 L1299.6,661.5 L1300.8,661.5 L1302.0,661.5 L1303.2,661.5 L1304.4,661.5 L1305.6,661.5 L1306.8,661.5 L1308.1,661.5 L1309.3,661.5 L1310.5,661.5 L1311.7,661.5 L1312.9,661.5 L1314.1,661.5 L1315.3,661.5 L1316.6,661.5 L1317.8,661.5 L1319.0,661.5 L1320.2,661.5 L1321.4,661.5 L1322.6,661.5 L1323.9,661.5 L1325.1,661.5 L1326.3,661.5 L1327.5,661.5 L1328.7,661.5 L1329.9,661.5 L1331.1,661.5 L1332.4,661.5 L1333.6,661.5 L1334.8,661.5 L1336.0,661.5 L1337.2,661.5 L1338.4,661.5 L1339.6,661.4 L1340.9,661.4 L1342.1,661.4 L1343.3,661.4 L1344.5,661.4 L1345.7,661.4 L1346.9,661.4 L1348.1,661.4 L1349.4,661.4 L1350.6,661.4 L1351.8,661.4 L1353.0,661.4 L1354.2,661.4 L1355.4,661.4 L1356.7,661.4 L1357.9,661.4 L1359.1,661.4 L1360.3,661.4 L1361.5,661.4 L1362.7,661.3 L1363.9,661.3 L1365.2,661.3 L1366.4,661.3 L1367.6,661.3 L1368.8,661.3 L1370.0,661.3 L1371.2,661.3 L1372.4,661.3 L1373.7,661.2 L1374.9,661.2 L1376.1,661.2 L1377.3,661.2 L1378.5,661.2 L1379.7,661.2 L1381.0,661.1 L1382.2,661.1 L1383.4,661.1 L1384.6,661.1 L1385.8,661.1 L1387.0,661.0 L1388.2,661.0 L1389.5,661.0 L1390.7,661.0 L1391.9,660.9 L1393.1,660.9 L1394.3,660.9 L1395.5,660.8 L1396.7,660.8 L1398.0,660.8 L1399.2,660.7 L1400.4,660.7 L1401.6,660.7 L1402.8,660.6 L1404.0,660.6 L1405.2,660.5 L1406.5,660.5 L1407.7,660.4 L1408.9,660.4 L1410.1,660.3 L1411.3,660.3 L1412.5,660.2 L1413.8,660.1 L1415.0,660.1 L1416.2,660.0 L1417.4,659.9 L1418.6,659.9 L1419.8,659.8 L1421.0,659.7 L1422.3,659.6 L1423.5,659.5 L1424.7,659.4 L1425.9,659.3 L1427.1,659.2 L1428.3,659.1 L1429.5,659.0 L1430.8,658.9 L1432.0,658.8 L1433.2,658.7 L1434.4,658.5 L1435.6,658.4 L1436.8,658.3 L1438.1,658.1 L1439.3,658.0 L1440.5,657.8 L1441.7,657.7 L1442.9,657.5 L1444.1,657.3 L1445.3,657.2 L1446.6,657.0 L1447.8,656.8 L1449.0,656.6 L1450.2,656.4 L1451.4,656.2 L1452.6,656.0 L1453.8,655.7 L1455.1,655.5 L1456.3,655.3 L1457.5,655.0 L1458.7,654.7 L1459.9,654.5 L1461.1,654.2 L1462.3,653.9 L1463.6,653.6 L1464.8,653.3 L1466.0,653.0 L1467.2,652.6 L1468.4,652.3 L1469.6,652.0 L1470.9,651.6 L1472.1,651.2 L1473.3,650.8 L1474.5,650.4 L1475.7,650.0 L1476.9,649.6 L1478.1,649.1 L1479.4,648.7 L1480.6,648.2 L1481.8,647.7 L1483.0,647.3 L1484.2,646.7 L1485.4,646.2 L1486.6,645.7 L1487.9,645.1 L1489.1,644.5 L1490.3,643.9 L1491.5,643.3 L1492.7,642.7 L1493.9,642.1 L1495.2,641.4 L1496.4,640.7 L1497.6,640.0 L1498.8,639.3 L1499.9,638.6 L1501.1,637.8 L1502.2,637.0 L1503.4,636.3 L1504.5,635.4 L1505.7,634.6 L1506.8,633.7 L1508.0,632.9 L1509.1,631.9 L1510.3,631.0 L1511.4,630.1 L1512.6,629.1 L1513.7,628.1 L1514.9,627.1 L1516.0,626.0 L1517.2,625.0 L1518.3,623.9 L1519.5,622.7 L1520.6,621.6 L1521.8,620.4 L1523.0,619.2 L1524.1,618.0 L1525.3,616.7 L1526.4,615.5 L1527.6,614.1 L1528.8,612.8 L1529.9,611.4 L1531.1,610.0 L1532.2,608.6 L1533.4,607.2 L1534.6,605.7 L1535.7,604.2 L1536.9,602.6 L1538.1,601.1 L1539.2,599.5 L1540.4,597.8 L1541.6,596.2 L1542.7,594.5 L1543.9,592.8 L1545.1,591.0 L1546.2,589.2 L1547.4,587.4 L1548.6,585.5 L1549.7,583.7 L1550.9,581.7 L1552.1,579.8 L1553.3,577.8 L1554.4,575.8 L1555.6,573.8 L1556.8,571.7 L1557.9,569.6 L1559.1,567.4 L1560.3,565.3 L1561.5,563.1 L1562.7,560.8 L1563.8,558.6 L1565.0,556.2 L1566.2,553.9 L1567.4,551.5 L1568.5,549.1 L1569.7,546.7 L1570.9,544.2 L1572.1,541.7 L1573.3,539.2 L1574.5,536.7 L1575.6,534.1 L1576.8,531.4 L1578.0,528.8 L1579.2,526.1 L1580.4,523.4 L1581.6,520.7 L1582.8,517.9 L1583.9,515.1 L1585.1,512.2 L1586.3,509.4 L1587.5,506.5 L1588.7,503.6 L1589.9,500.6 L1591.1,497.7 L1592.3,494.7 L1593.5,491.6 L1594.7,488.6 L1595.9,485.5 L1597.0,482.4 L1598.2,479.3 L1599.4,476.1 L1600.6,473.0 L1601.8,469.8 L1603.0,466.5 L1604.2,463.3 L1605.4,460.0 L1606.6,456.7 L1607.8,453.4 L1609.0,450.1 L1610.2,446.8 L1611.4,443.4 L1612.6,440.0 L1613.8,436.7 L1615.0,433.2 L1616.2,429.8 L1617.4,426.4 L1618.6,422.9 L1619.8,419.5 L1621.1,416.0 L1622.3,412.5 L1623.5,409.0 L1624.7,405.5 L1625.9,401.9 L1627.1,398.4 L1628.3,394.9 L1629.5,391.3 L1630.7,387.8 L1631.9,384.2 L1633.1,380.7 L1634.4,377.1 L1635.6,373.5 L1636.8,369.9 L1638.0,366.4 L1639.2,362.8 L1640.4,359.2 L1641.6,355.7 L1642.9,352.1 L1644.1,348.5 L1645.3,344.9 L1646.5,341.4 L1647.7,337.8 L1648.9,334.3 L1650.2,330.7 L1651.4,327.2 L1652.6,323.7 L1653.8,320.1 L1655.1,316.6 L1656.3,313.1 L1657.5,309.6 L1658.7,306.1 L1659.9,302.7 L1661.2,299.2 L1662.4,295.8 L1663.6,292.4 L1664.9,288.9 L1666.1,285.6 L1667.3,282.2 L1668.5,278.8 L1669.8,275.5 L1671.0,272.2 L1672.2,268.9 L1673.5,265.6 L1674.7,262.3 L1675.9,259.1 L1677.2,255.8 L1678.4,252.6 L1679.6,249.5 L1680.9,246.3 L1682.1,243.2 L1683.3,240.1 L1684.6,237.0 L1685.8,234.0 L1687.0,230.9 L1688.3,227.9 L1689.5,225.0 L1690.8,222.0 L1692.0,219.1 L1693.2,216.2 L1694.5,213.4 L1695.7,210.5 L1697.0,207.7 L1698.2,204.9 L1699.4,202.2 L1700.7,199.5 L1701.9,196.8 L1703.2,194.2 L1704.4,191.5 L1705.7,188.9 L1706.9,186.4 L1708.2,183.9 L1709.4,181.4 L1710.7,178.9 L1711.9,176.5 L1713.2,174.1 L1714.4,171.7 L1715.7,169.4 L1716.9,167.0 L1718.2,164.8 L1719.4,162.5 L1720.7,160.3 L1721.9,158.2 L1723.2,156.0 L1724.4,153.9 L1725.7,151.8 L1726.9,149.8 L1728.2,147.8 L1729.5,145.8 L1730.7,143.9 L1732.0,141.9 L1733.2,140.1 L1734.5,138.2 L1735.7,136.4 L1737.0,134.6 L1738.3,132.8 L1739.5,131.1 L1740.8,129.4 L1742.1,127.8 L1743.3,126.1 L1744.6,124.5 L1745.9,123.0 L1747.1,121.4 L1748.4,119.9 L1749.7,118.4 L1750.9,117.0 L1752.2,115.6 L1753.5,114.2 L1754.7,112.8 L1756.0,111.5 L1757.3,110.1 L1758.5,108.9 L1759.8,107.6 L1761.1,106.4 L1762.4,105.2 L1763.6,104.0 L1764.9,102.9 L1766.2,101.7 L1767.4,100.6 L1768.7,99.6 L1770.0,98.5 L1771.3,97.5 L1772.6,96.5 L1773.8,95.5 L1775.1,94.6 L1776.4,93.7 L1777.7,92.7 L1778.9,91.9 L1780.2,91.0 L1781.5,90.2 L1782.8,89.3 L1784.1,88.6 L1785.4,87.8 L1786.6,87.0 L1787.9,86.3 L1789.2,85.6 L1790.4,84.9 L1791.6,84.2 L1792.8,83.5 L1794.0,82.9 L1795.2,82.3 L1796.4,81.7 L1797.7,81.1 L1798.9,80.5 L1800.1,79.9 L1801.3,79.4 L1802.5,78.9 L1803.7,78.3 L1804.9,77.9 L1806.2,77.4 L1807.4,76.9 L1808.6,76.5 L1809.8,76.0 L1811.0,75.6 L1812.2,75.2 L1813.5,74.8 L1814.7,74.4 L1815.9,74.0 L1817.1,73.6 L1818.3,73.3 L1819.5,73.0 L1820.7,72.6 L1822.0,72.3 L1823.2,72.0 L1824.4,71.7 L1825.6,71.4 L1826.8,71.1 L1828.0,70.9 L1829.2,70.6 L1830.5,70.3 L1831.7,70.1 L1832.9,69.9 L1834.1,69.6 L1835.3,69.4 L1836.5,69.2 L1837.8,69.0 L1839.0,68.8 L1840.2,68.6 L1841.4,68.4 L1842.6,68.3 L1843.8,68.1 L1845.0,67.9 L1846.3,67.8 L1847.5,67.6 L1848.7,67.5 L1849.9,67.3 L1851.1,67.2 L1852.3,67.1 L1853.5,66.9 L1854.8,66.8 L1856.0,66.7 L1857.2,66.6 L1858.4,66.5 L1859.6,66.4 L1860.8,66.3 L1862.1,66.2 L1863.3,66.1 L1864.5,66.0 L1865.7,65.9 L1866.9,65.8 L1868.1,65.7 L1869.3,65.7 L1870.6,65.6 L1871.8,65.5 L1873.0,65.5 L1874.2,65.4 L1875.4,65.3 L1876.6,65.3 L1877.8,65.2 L1879.1,65.2 L1880.3,65.1 L1881.5,65.1 L1882.7,65.0 L1883.9,65.0 L1885.1,64.9 L1886.3,64.9 L1887.6,64.9 L1888.8,64.8 L1890.0,64.8 L1891.2,64.8 L1892.4,64.7 L1893.6,64.7 L1894.9,64.7 L1896.1,64.6 L1897.3,64.6 L1898.5,64.6 L1899.7,64.6 L1900.9,64.5 L1902.1,64.5 L1903.4,64.5 L1904.6,64.5 L1905.8,64.5 L1907.0,64.4 L1908.2,64.4 L1909.4,64.4 L1910.6,64.4 L1911.9,64.4 L1913.1,64.4 L1914.3,64.3 L1915.5,64.3 L1916.7,64.3 L1917.9,64.3 L1919.2,64.3 L1920.4,64.3 L1921.6,64.3 L1922.8,64.3 L1924.0,64.3 L1925.2,64.2 L1926.4,64.2 L1927.7,64.2 L1928.9,64.2 L1930.1,64.2 L1931.3,64.2 L1932.5,64.2 L1933.7,64.2 L1934.9,64.2 L1936.2,64.2 L1937.4,64.2 L1938.6,64.2 L1939.8,64.2 L1941.0,64.2 L1942.2,64.2 L1943.4,64.2 L1944.7,64.2 L1945.9,64.2 L1947.1,64.2 L1948.3,64.1 L1949.5,64.1 L1950.7,64.1 L1952.0,64.1 L1953.2,64.1 L1954.4,64.1 L1955.6,64.1 L1956.8,64.1 L1958.0,64.1 L1959.2,64.1 L1960.5,64.1 L1961.7,64.1 L1962.9,64.1 L1964.1,64.1 L1965.3,64.1 L1966.5,64.1 L1967.7,64.1 L1969.0,64.1 L1970.2,64.1 L1971.4,64.1 L1972.6,64.1 L1973.8,64.1 L1975.0,64.1 L1976.3,64.1 L1977.5,64.1 L1978.7,64.1 L1979.9,64.1 L1981.1,64.1 L1982.3,64.1 L1983.5,64.1 L1984.8,64.1 L1986.0,64.1 L1987.2,64.1 L1988.4,64.1 L1989.6,64.1 L1990.8,64.1 L1992.0,64.1 L1993.3,64.1 L1994.5,64.1 L1995.7,64.1 L1996.9,64.1 L1998.1,64.1 L1999.3,64.1 L2000.5,64.1 L2001.8,64.1 L2003.0,64.1 L2004.2,64.1 L2005.4,64.1 L2006.6,64.1 L2007.8,64.1 L2009.1,64.1 L2010.3,64.1 L2011.5,64.1 L2012.7,64.1 L2013.9,64.1 L2015.1,64.1 L2016.3,64.1 L2017.6,64.1 L2018.8,64.1 L2020.0,64.1 L2021.2,64.1 L2022.4,64.1 L2023.6,64.1 L2024.8,64.1 L2026.1,64.1 L2027.3,64.1 L2028.5,64.1 L2029.7,64.1 L2030.9,64.1 L2032.1,64.1 L2033.4,64.1 L2034.6,64.1 L2035.8,64.1 L2037.0,64.1 L2038.2,64.1 L2039.4,64.1 L2040.6,64.1 L2041.9,64.1 L2043.1,64.1 L2044.3,64.1 L2045.5,64.1 L2046.7,64.1 L2047.9,64.1 L2049.1,64.1 L2050.4,64.1 L2051.6,64.1 L2052.8,64.1 L2054.0,64.1 L2055.2,64.1 L2056.4,64.1 L2057.6,64.1 L2058.9,64.1 L2060.1,64.1 L2061.3,64.1 L2062.5,64.1 L2063.7,64.1 L2064.9,64.1 L2066.2,64.1 L2067.4,64.1 L2068.6,64.1 L2069.8,64.1 L2071.0,64.1 L2072.2,64.1 L2073.4,64.1 L2074.7,64.1 L2075.9,64.1 L2077.1,64.1 L2078.3,64.1 L2078.8,64.1"/>
<path stroke="#F4A56F" d="M1267.4,661.5 L1267.9,661.5 L1269.3,661.5 L1270.7,661.5 L1272.0,661.5 L1273.4,661.5 L1274.8,661.5 L1276.2,661.5 L1277.6,661.5 L1279.0,661.5 L1280.4,661.5 L1281.7,661.5 L1283.1,661.5 L1284.5,661.5 L1285.9,661.5 L1287.3,661.5 L1288.7,661.5 L1290.1,661.5 L1291.4,661.5 L1292.8,661.5 L1294.2,661.5 L1295.6,661.5 L1297.0,661.5 L1298.4,661.4 L1299.7,661.4 L1301.1,661.4 L1302.5,661.4 L1303.9,661.4 L1305.3,661.4 L1306.7,661.4 L1308.1,661.4 L1309.4,661.4 L1310.8,661.4 L1312.2,661.4 L1313.6,661.4 L1315.0,661.4 L1316.4,661.4 L1317.8,661.4 L1319.1,661.4 L1320.5,661.4 L1321.9,661.4 L1323.3,661.4 L1324.7,661.3 L1326.1,661.3 L1327.4,661.3 L1328.8,661.3 L1330.2,661.3 L1331.6,661.3 L1333.0,661.3 L1334.4,661.3 L1335.8,661.3 L1337.1,661.2 L1338.5,661.2 L1339.9,661.2 L1341.3,661.2 L1342.7,661.2 L1344.1,661.2 L1345.5,661.1 L1346.8,661.1 L1348.2,661.1 L1349.6,661.1 L1351.0,661.1 L1352.4,661.0 L1353.8,661.0 L1355.1,661.0 L1356.5,661.0 L1357.9,660.9 L1359.3,660.9 L1360.7,660.9 L1362.1,660.8 L1363.5,660.8 L1364.8,660.8 L1366.2,660.7 L1367.6,660.7 L1369.0,660.7 L1370.4,660.6 L1371.8,660.6 L1373.1,660.5 L1374.5,660.5 L1375.9,660.4 L1377.3,660.4 L1378.7,660.3 L1380.1,660.3 L1381.5,660.2 L1382.8,660.1 L1384.2,660.1 L1385.6,660.0 L1387.0,659.9 L1388.4,659.9 L1389.8,659.8 L1391.2,659.7 L1392.5,659.6 L1393.9,659.5 L1395.3,659.4 L1396.7,659.3 L1398.1,659.2 L1399.5,659.1 L1400.8,659.0 L1402.2,658.9 L1403.6,658.8 L1405.0,658.7 L1406.4,658.5 L1407.8,658.4 L1409.2,658.3 L1410.5,658.1 L1411.9,658.0 L1413.3,657.8 L1414.7,657.7 L1416.1,657.5 L1417.5,657.3 L1418.9,657.2 L1420.2,657.0 L1421.6,656.8 L1423.0,656.6 L1424.4,656.4 L1425.8,656.2 L1427.2,656.0 L1428.5,655.7 L1429.9,655.5 L1431.3,655.3 L1432.7,655.0 L1434.1,654.7 L1435.5,654.5 L1436.9,654.2 L1438.2,653.9 L1439.6,653.6 L1441.0,653.3 L1442.4,653.0 L1443.8,652.6 L1445.2,652.3 L1446.6,652.0 L1447.9,651.6 L1449.3,651.2 L1450.7,650.8 L1452.1,650.4 L1453.5,650.0 L1454.9,649.6 L1456.2,649.1 L1457.6,648.7 L1459.0,648.2 L1460.4,647.7 L1461.8,647.3 L1463.2,646.7 L1464.6,646.2 L1465.9,645.7 L1467.3,645.1 L1468.7,644.5 L1470.1,643.9 L1471.5,643.3 L1472.9,642.7 L1474.2,642.1 L1475.6,641.4 L1477.0,640.7 L1478.4,640.0 L1479.8,639.3 L1481.1,638.6 L1482.4,637.8 L1483.7,637.0 L1485.0,636.3 L1486.4,635.4 L1487.7,634.6 L1489.0,633.7 L1490.3,632.9 L1491.6,631.9 L1493.0,631.0 L1494.3,630.1 L1495.6,629.1 L1496.9,628.1 L1498.2,627.1 L1499.6,626.0 L1500.9,625.0 L1502.2,623.9 L1503.5,622.7 L1504.9,621.6 L1506.2,620.4 L1507.5,619.2 L1508.8,618.0 L1510.2,616.7 L1511.5,615.5 L1512.8,614.1 L1514.2,612.8 L1515.5,611.4 L1516.8,610.0 L1518.2,608.6 L1519.5,607.2 L1520.8,605.7 L1522.2,604.2 L1523.5,602.6 L1524.8,601.1 L1526.2,599.5 L1527.5,597.8 L1528.8,596.2 L1530.2,594.5 L1531.5,592.8 L1532.9,591.0 L1534.2,589.2 L1535.5,587.4 L1536.9,585.5 L1538.2,583.7 L1539.6,581.7 L1540.9,579.8 L1542.2,577.8 L1543.6,575.8 L1544.9,573.8 L1546.3,571.7 L1547.6,569.6 L1549.0,567.4 L1550.3,565.3 L1551.7,563.1 L1553.0,560.8 L1554.3,558.6 L1555.7,556.2 L1557.0,553.9 L1558.4,551.5 L1559.7,549.1 L1561.1,546.7 L1562.4,544.2 L1563.8,541.7 L1565.1,539.2 L1566.5,536.7 L1567.9,534.1 L1569.2,531.4 L1570.6,528.8 L1571.9,526.1 L1573.3,523.4 L1574.6,520.7 L1576.0,517.9 L1577.3,515.1 L1578.7,512.2 L1580.1,509.4 L1581.4,506.5 L1582.8,503.6 L1584.1,500.6 L1585.5,497.7 L1586.9,494.7 L1588.2,491.6 L1589.6,488.6 L1591.0,485.5 L1592.3,482.4 L1593.7,479.3 L1595.1,476.1 L1596.4,473.0 L1597.8,469.8 L1599.1,466.5 L1600.5,463.3 L1601.9,460.0 L1603.3,456.7 L1604.6,453.4 L1606.0,450.1 L1607.4,446.8 L1608.7,443.4 L1610.1,440.0 L1611.5,436.7 L1612.9,433.2 L1614.2,429.8 L1615.6,426.4 L1617.0,422.9 L1618.4,419.5 L1619.7,416.0 L1621.1,412.5 L1622.5,409.0 L1623.9,405.5 L1625.2,401.9 L1626.6,398.4 L1628.0,394.9 L1629.4,391.3 L1630.8,387.8 L1632.1,384.2 L1633.5,380.7 L1634.9,377.1 L1636.3,373.5 L1637.7,369.9 L1639.0,366.4 L1640.4,362.8 L1641.8,359.2 L1643.2,355.7 L1644.6,352.1 L1646.0,348.5 L1647.4,344.9 L1648.8,341.4 L1650.1,337.8 L1651.5,334.3 L1652.9,330.7 L1654.3,327.2 L1655.7,323.7 L1657.1,320.1 L1658.5,316.6 L1659.9,313.1 L1661.3,309.6 L1662.7,306.1 L1664.1,302.7 L1665.5,299.2 L1666.9,295.8 L1668.2,292.4 L1669.6,288.9 L1671.0,285.6 L1672.4,282.2 L1673.8,278.8 L1675.2,275.5 L1676.6,272.2 L1678.0,268.9 L1679.4,265.6 L1680.8,262.3 L1682.2,259.1 L1683.6,255.8 L1685.1,252.6 L1686.5,249.5 L1687.9,246.3 L1689.3,243.2 L1690.7,240.1 L1692.1,237.0 L1693.5,234.0 L1694.9,230.9 L1696.3,227.9 L1697.7,225.0 L1699.1,222.0 L1700.5,219.1 L1701.9,216.2 L1703.3,213.4 L1704.8,210.5 L1706.2,207.7 L1707.6,204.9 L1709.0,202.2 L1710.4,199.5 L1711.8,196.8 L1713.2,194.2 L1714.7,191.5 L1716.1,188.9 L1717.5,186.4 L1718.9,183.9 L1720.3,181.4 L1721.7,178.9 L1723.2,176.5 L1724.6,174.1 L1726.0,171.7 L1727.4,169.4 L1728.8,167.0 L1730.3,164.8 L1731.7,162.5 L1733.1,160.3 L1734.5,158.2 L1736.0,156.0 L1737.4,153.9 L1738.8,151.8 L1740.2,149.8 L1741.7,147.8 L1743.1,145.8 L1744.5,143.9 L1745.9,141.9 L1747.4,140.1 L1748.8,138.2 L1750.2,136.4 L1751.7,134.6 L1753.1,132.8 L1754.5,131.1 L1756.0,129.4 L1757.4,127.8 L1758.8,126.1 L1760.3,124.5 L1761.7,123.0 L1763.1,121.4 L1764.6,119.9 L1766.0,118.4 L1767.4,117.0 L1768.9,115.6 L1770.3,114.2 L1771.8,112.8 L1773.2,111.5 L1774.6,110.1 L1776.1,108.9 L1777.5,107.6 L1779.0,106.4 L1780.4,105.2 L1781.9,104.0 L1783.3,102.9 L1784.7,101.7 L1786.2,100.6 L1787.6,99.6 L1789.1,98.5 L1790.5,97.5 L1792.0,96.5 L1793.4,95.5 L1794.9,94.6 L1796.3,93.7 L1797.8,92.7 L1799.2,91.9 L1800.7,91.0 L1802.1,90.2 L1803.6,89.3 L1805.0,88.6 L1806.5,87.8 L1807.9,87.0 L1809.4,86.3 L1810.8,85.6 L1812.2,84.9 L1813.6,84.2 L1814.9,83.5 L1816.3,82.9 L1817.7,82.3 L1819.1,81.7 L1820.5,81.1 L1821.9,80.5 L1823.2,79.9 L1824.6,79.4 L1826.0,78.9 L1827.4,78.3 L1828.8,77.9 L1830.2,77.4 L1831.6,76.9 L1832.9,76.5 L1834.3,76.0 L1835.7,75.6 L1837.1,75.2 L1838.5,74.8 L1839.9,74.4 L1841.3,74.0 L1842.6,73.6 L1844.0,73.3 L1845.4,73.0 L1846.8,72.6 L1848.2,72.3 L1849.6,72.0 L1850.9,71.7 L1852.3,71.4 L1853.7,71.1 L1855.1,70.9 L1856.5,70.6 L1857.9,70.3 L1859.3,70.1 L1860.6,69.9 L1862.0,69.6 L1863.4,69.4 L1864.8,69.2 L1866.2,69.0 L1867.6,68.8 L1869.0,68.6 L1870.3,68.4 L1871.7,68.3 L1873.1,68.1 L1874.5,67.9 L1875.9,67.8 L1877.3,67.6 L1878.6,67.5 L1880.0,67.3 L1881.4,67.2 L1882.8,67.1 L1884.2,66.9 L1885.6,66.8 L1887.0,66.7 L1888.3,66.6 L1889.7,66.5 L1891.1,66.4 L1892.5,66.3 L1893.9,66.2 L1895.3,66.1 L1896.7,66.0 L1898.0,65.9 L1899.4,65.8 L1900.8,65.7 L1902.2,65.7 L1903.6,65.6 L1905.0,65.5 L1906.3,65.5 L1907.7,65.4 L1909.1,65.3 L1910.5,65.3 L1911.9,65.2 L1913.3,65.2 L1914.7,65.1 L1916.0,65.1 L1917.4,65.0 L1918.8,65.0 L1920.2,64.9 L1921.6,64.9 L1923.0,64.9 L1924.3,64.8 L1925.7,64.8 L1927.1,64.8 L1928.5,64.7 L1929.9,64.7 L1931.3,64.7 L1932.7,64.6 L1934.0,64.6 L1935.4,64.6 L1936.8,64.6 L1938.2,64.5 L1939.6,64.5 L1941.0,64.5 L1942.4,64.5 L1943.7,64.5 L1945.1,64.4 L1946.5,64.4 L1947.9,64.4 L1949.3,64.4 L1950.7,64.4 L1952.0,64.4 L1953.4,64.3 L1954.8,64.3 L1956.2,64.3 L1957.6,64.3 L1959.0,64.3 L1960.4,64.3 L1961.7,64.3 L1963.1,64.3 L1964.5,64.3 L1965.9,64.2 L1967.3,64.2 L1968.7,64.2 L1970.1,64.2 L1971.4,64.2 L1972.8,64.2 L1974.2,64.2 L1975.6,64.2 L1977.0,64.2 L1978.4,64.2 L1979.7,64.2 L1981.1,64.2 L1982.5,64.2 L1983.9,64.2 L1985.3,64.2 L1986.7,64.2 L1988.1,64.2 L1989.4,64.2 L1990.8,64.2 L1992.2,64.1 L1993.6,64.1 L1995.0,64.1 L1996.4,64.1 L1997.7,64.1 L1999.1,64.1 L2000.5,64.1 L2001.9,64.1 L2003.3,64.1 L2004.7,64.1 L2006.1,64.1 L2007.4,64.1 L2008.8,64.1 L2010.2,64.1 L2011.6,64.1 L2013.0,64.1 L2014.4,64.1 L2015.8,64.1 L2017.1,64.1 L2018.5,64.1 L2019.9,64.1 L2021.3,64.1 L2022.7,64.1 L2024.1,64.1 L2025.4,64.1 L2026.8,64.1 L2028.2,64.1 L2029.6,64.1 L2031.0,64.1 L2032.4,64.1 L2033.8,64.1 L2035.1,64.1 L2036.5,64.1 L2037.9,64.1 L2039.3,64.1 L2040.7,64.1 L2042.1,64.1 L2043.5,64.1 L2044.8,64.1 L2046.2,64.1 L2047.6,64.1 L2049.0,64.1 L2050.4,64.1 L2051.8,64.1 L2053.1,64.1 L2054.5,64.1 L2055.9,64.1 L2057.3,64.1 L2058.7,64.1 L2060.1,64.1 L2061.5,64.1 L2062.8,64.1 L2064.2,64.1 L2065.6,64.1 L2067.0,64.1 L2068.4,64.1 L2069.8,64.1 L2071.2,64.1 L2072.5,64.1 L2073.9,64.1 L2075.3,64.1 L2076.7,64.1 L2078.1,64.1 L2078.8,64.1"/>
<path stroke="#C98BB8" d="M1267.4,661.4 L1267.9,661.4 L1269.5,661.4 L1271.0,661.4 L1272.6,661.4 L1274.1,661.4 L1275.7,661.4 L1277.2,661.4 L1278.8,661.4 L1280.3,661.4 L1281.9,661.4 L1283.5,661.4 L1285.0,661.4 L1286.6,661.3 L1288.1,661.3 L1289.7,661.3 L1291.2,661.3 L1292.8,661.3 L1294.3,661.3 L1295.9,661.3 L1297.4,661.3 L1299.0,661.3 L1300.6,661.2 L1302.1,661.2 L1303.7,661.2 L1305.2,661.2 L1306.8,661.2 L1308.3,661.2 L1309.9,661.1 L1311.4,661.1 L1313.0,661.1 L1314.6,661.1 L1316.1,661.1 L1317.7,661.0 L1319.2,661.0 L1320.8,661.0 L1322.3,661.0 L1323.9,660.9 L1325.4,660.9 L1327.0,660.9 L1328.5,660.8 L1330.1,660.8 L1331.7,660.8 L1333.2,660.7 L1334.8,660.7 L1336.3,660.7 L1337.9,660.6 L1339.4,660.6 L1341.0,660.5 L1342.5,660.5 L1344.1,660.4 L1345.6,660.4 L1347.2,660.3 L1348.8,660.3 L1350.3,660.2 L1351.9,660.1 L1353.4,660.1 L1355.0,660.0 L1356.5,659.9 L1358.1,659.9 L1359.6,659.8 L1361.2,659.7 L1362.7,659.6 L1364.3,659.5 L1365.9,659.4 L1367.4,659.3 L1369.0,659.2 L1370.5,659.1 L1372.1,659.0 L1373.6,658.9 L1375.2,658.8 L1376.7,658.7 L1378.3,658.5 L1379.9,658.4 L1381.4,658.3 L1383.0,658.1 L1384.5,658.0 L1386.1,657.8 L1387.6,657.7 L1389.2,657.5 L1390.7,657.3 L1392.3,657.2 L1393.8,657.0 L1395.4,656.8 L1397.0,656.6 L1398.5,656.4 L1400.1,656.2 L1401.6,656.0 L1403.2,655.7 L1404.7,655.5 L1406.3,655.3 L1407.8,655.0 L1409.4,654.7 L1410.9,654.5 L1412.5,654.2 L1414.1,653.9 L1415.6,653.6 L1417.2,653.3 L1418.7,653.0 L1420.3,652.6 L1421.8,652.3 L1423.4,652.0 L1424.9,651.6 L1426.5,651.2 L1428.0,650.8 L1429.6,650.4 L1431.2,650.0 L1432.7,649.6 L1434.3,649.1 L1435.8,648.7 L1437.4,648.2 L1438.9,647.7 L1440.5,647.3 L1442.0,646.7 L1443.6,646.2 L1445.1,645.7 L1446.7,645.1 L1448.3,644.5 L1449.8,643.9 L1451.4,643.3 L1452.9,642.7 L1454.5,642.1 L1456.0,641.4 L1457.6,640.7 L1459.1,640.0 L1460.7,639.3 L1462.2,638.6 L1463.6,637.8 L1465.1,637.0 L1466.6,636.3 L1468.1,635.4 L1469.6,634.6 L1471.1,633.7 L1472.6,632.9 L1474.1,631.9 L1475.6,631.0 L1477.0,630.1 L1478.5,629.1 L1480.0,628.1 L1481.5,627.1 L1483.0,626.0 L1484.5,625.0 L1486.0,623.9 L1487.5,622.7 L1489.0,621.6 L1490.5,620.4 L1492.0,619.2 L1493.5,618.0 L1495.0,616.7 L1496.5,615.5 L1498.0,614.1 L1499.5,612.8 L1501.0,611.4 L1502.5,610.0 L1504.0,608.6 L1505.5,607.2 L1507.0,605.7 L1508.5,604.2 L1510.0,602.6 L1511.5,601.1 L1513.0,599.5 L1514.5,597.8 L1516.0,596.2 L1517.5,594.5 L1519.0,592.8 L1520.6,591.0 L1522.1,589.2 L1523.6,587.4 L1525.1,585.5 L1526.6,583.7 L1528.1,581.7 L1529.6,579.8 L1531.1,577.8 L1532.6,575.8 L1534.2,573.8 L1535.7,571.7 L1537.2,569.6 L1538.7,567.4 L1540.2,565.3 L1541.7,563.1 L1543.2,560.8 L1544.8,558.6 L1546.3,556.2 L1547.8,553.9 L1549.3,551.5 L1550.8,549.1 L1552.4,546.7 L1553.9,544.2 L1555.4,541.7 L1556.9,539.2 L1558.4,536.7 L1560.0,534.1 L1561.5,531.4 L1563.0,528.8 L1564.5,526.1 L1566.1,523.4 L1567.6,520.7 L1569.1,517.9 L1570.7,515.1 L1572.2,512.2 L1573.7,509.4 L1575.2,506.5 L1576.8,503.6 L1578.3,500.6 L1579.8,497.7 L1581.4,494.7 L1582.9,491.6 L1584.4,488.6 L1586.0,485.5 L1587.5,482.4 L1589.0,479.3 L1590.6,476.1 L1592.1,473.0 L1593.6,469.8 L1595.2,466.5 L1596.7,463.3 L1598.2,460.0 L1599.8,456.7 L1601.3,453.4 L1602.9,450.1 L1604.4,446.8 L1605.9,443.4 L1607.5,440.0 L1609.0,436.7 L1610.6,433.2 L1612.1,429.8 L1613.7,426.4 L1615.2,422.9 L1616.7,419.5 L1618.3,416.0 L1619.8,412.5 L1621.4,409.0 L1622.9,405.5 L1624.5,401.9 L1626.0,398.4 L1627.6,394.9 L1629.1,391.3 L1630.7,387.8 L1632.2,384.2 L1633.8,380.7 L1635.3,377.1 L1636.9,373.5 L1638.4,369.9 L1640.0,366.4 L1641.5,362.8 L1643.1,359.2 L1644.7,355.7 L1646.2,352.1 L1647.8,348.5 L1649.3,344.9 L1650.9,341.4 L1652.4,337.8 L1654.0,334.3 L1655.6,330.7 L1657.1,327.2 L1658.7,323.7 L1660.2,320.1 L1661.8,316.6 L1663.4,313.1 L1664.9,309.6 L1666.5,306.1 L1668.1,302.7 L1669.6,299.2 L1671.2,295.8 L1672.8,292.4 L1674.3,288.9 L1675.9,285.6 L1677.5,282.2 L1679.0,278.8 L1680.6,275.5 L1682.2,272.2 L1683.7,268.9 L1685.3,265.6 L1686.9,262.3 L1688.5,259.1 L1690.0,255.8 L1691.6,252.6 L1693.2,249.5 L1694.7,246.3 L1696.3,243.2 L1697.9,240.1 L1699.5,237.0 L1701.1,234.0 L1702.6,230.9 L1704.2,227.9 L1705.8,225.0 L1707.4,222.0 L1708.9,219.1 L1710.5,216.2 L1712.1,213.4 L1713.7,210.5 L1715.3,207.7 L1716.8,204.9 L1718.4,202.2 L1720.0,199.5 L1721.6,196.8 L1723.2,194.2 L1724.8,191.5 L1726.4,188.9 L1727.9,186.4 L1729.5,183.9 L1731.1,181.4 L1732.7,178.9 L1734.3,176.5 L1735.9,174.1 L1737.5,171.7 L1739.1,169.4 L1740.7,167.0 L1742.2,164.8 L1743.8,162.5 L1745.4,160.3 L1747.0,158.2 L1748.6,156.0 L1750.2,153.9 L1751.8,151.8 L1753.4,149.8 L1755.0,147.8 L1756.6,145.8 L1758.2,143.9 L1759.8,141.9 L1761.4,140.1 L1763.0,138.2 L1764.6,136.4 L1766.2,134.6 L1767.8,132.8 L1769.4,131.1 L1771.0,129.4 L1772.6,127.8 L1774.2,126.1 L1775.8,124.5 L1777.4,123.0 L1779.0,121.4 L1780.6,119.9 L1782.2,118.4 L1783.8,117.0 L1785.5,115.6 L1787.1,114.2 L1788.7,112.8 L1790.3,111.5 L1791.9,110.1 L1793.5,108.9 L1795.1,107.6 L1796.7,106.4 L1798.3,105.2 L1799.9,104.0 L1801.6,102.9 L1803.2,101.7 L1804.8,100.6 L1806.4,99.6 L1808.0,98.5 L1809.6,97.5 L1811.3,96.5 L1812.9,95.5 L1814.5,94.6 L1816.1,93.7 L1817.7,92.7 L1819.3,91.9 L1821.0,91.0 L1822.6,90.2 L1824.2,89.3 L1825.8,88.6 L1827.5,87.8 L1829.1,87.0 L1830.7,86.3 L1832.3,85.6 L1833.8,84.9 L1835.4,84.2 L1836.9,83.5 L1838.5,82.9 L1840.1,82.3 L1841.6,81.7 L1843.2,81.1 L1844.7,80.5 L1846.3,79.9 L1847.8,79.4 L1849.4,78.9 L1850.9,78.3 L1852.5,77.9 L1854.0,77.4 L1855.6,76.9 L1857.2,76.5 L1858.7,76.0 L1860.3,75.6 L1861.8,75.2 L1863.4,74.8 L1864.9,74.4 L1866.5,74.0 L1868.0,73.6 L1869.6,73.3 L1871.1,73.0 L1872.7,72.6 L1874.3,72.3 L1875.8,72.0 L1877.4,71.7 L1878.9,71.4 L1880.5,71.1 L1882.0,70.9 L1883.6,70.6 L1885.1,70.3 L1886.7,70.1 L1888.2,69.9 L1889.8,69.6 L1891.4,69.4 L1892.9,69.2 L1894.5,69.0 L1896.0,68.8 L1897.6,68.6 L1899.1,68.4 L1900.7,68.3 L1902.2,68.1 L1903.8,67.9 L1905.3,67.8 L1906.9,67.6 L1908.5,67.5 L1910.0,67.3 L1911.6,67.2 L1913.1,67.1 L1914.7,66.9 L1916.2,66.8 L1917.8,66.7 L1919.3,66.6 L1920.9,66.5 L1922.5,66.4 L1924.0,66.3 L1925.6,66.2 L1927.1,66.1 L1928.7,66.0 L1930.2,65.9 L1931.8,65.8 L1933.3,65.7 L1934.9,65.7 L1936.4,65.6 L1938.0,65.5 L1939.6,65.5 L1941.1,65.4 L1942.7,65.3 L1944.2,65.3 L1945.8,65.2 L1947.3,65.2 L1948.9,65.1 L1950.4,65.1 L1952.0,65.0 L1953.5,65.0 L1955.1,64.9 L1956.7,64.9 L1958.2,64.9 L1959.8,64.8 L1961.3,64.8 L1962.9,64.8 L1964.4,64.7 L1966.0,64.7 L1967.5,64.7 L1969.1,64.6 L1970.6,64.6 L1972.2,64.6 L1973.8,64.6 L1975.3,64.5 L1976.9,64.5 L1978.4,64.5 L1980.0,64.5 L1981.5,64.5 L1983.1,64.4 L1984.6,64.4 L1986.2,64.4 L1987.7,64.4 L1989.3,64.4 L1990.9,64.4 L1992.4,64.3 L1994.0,64.3 L1995.5,64.3 L1997.1,64.3 L1998.6,64.3 L2000.2,64.3 L2001.7,64.3 L2003.3,64.3 L2004.9,64.3 L2006.4,64.2 L2008.0,64.2 L2009.5,64.2 L2011.1,64.2 L2012.6,64.2 L2014.2,64.2 L2015.7,64.2 L2017.3,64.2 L2018.8,64.2 L2020.4,64.2 L2022.0,64.2 L2023.5,64.2 L2025.1,64.2 L2026.6,64.2 L2028.2,64.2 L2029.7,64.2 L2031.3,64.2 L2032.8,64.2 L2034.4,64.2 L2035.9,64.1 L2037.5,64.1 L2039.1,64.1 L2040.6,64.1 L2042.2,64.1 L2043.7,64.1 L2045.3,64.1 L2046.8,64.1 L2048.4,64.1 L2049.9,64.1 L2051.5,64.1 L2053.0,64.1 L2054.6,64.1 L2056.2,64.1 L2057.7,64.1 L2059.3,64.1 L2060.8,64.1 L2062.4,64.1 L2063.9,64.1 L2065.5,64.1 L2067.0,64.1 L2068.6,64.1 L2070.2,64.1 L2071.7,64.1 L2073.3,64.1 L2074.8,64.1 L2076.4,64.1 L2077.9,64.1 L2078.8,64.1"/>
<path stroke="#3F3A75" d="M1267.4,661.3 L1268.8,661.3 L1270.4,661.3 L1272.1,661.3 L1273.7,661.3 L1275.4,661.3 L1277.0,661.3 L1278.7,661.3 L1280.3,661.3 L1281.9,661.2 L1283.6,661.2 L1285.2,661.2 L1286.9,661.2 L1288.5,661.2 L1290.2,661.2 L1291.8,661.1 L1293.4,661.1 L1295.1,661.1 L1296.7,661.1 L1298.4,661.1 L1300.0,661.0 L1301.7,661.0 L1303.3,661.0 L1305.0,661.0 L1306.6,660.9 L1308.2,660.9 L1309.9,660.9 L1311.5,660.8 L1313.2,660.8 L1314.8,660.8 L1316.5,660.7 L1318.1,660.7 L1319.7,660.7 L1321.4,660.6 L1323.0,660.6 L1324.7,660.5 L1326.3,660.5 L1328.0,660.4 L1329.6,660.4 L1331.2,660.3 L1332.9,660.3 L1334.5,660.2 L1336.2,660.1 L1337.8,660.1 L1339.5,660.0 L1341.1,659.9 L1342.8,659.9 L1344.4,659.8 L1346.0,659.7 L1347.7,659.6 L1349.3,659.5 L1351.0,659.4 L1352.6,659.3 L1354.3,659.2 L1355.9,659.1 L1357.5,659.0 L1359.2,658.9 L1360.8,658.8 L1362.5,658.7 L1364.1,658.5 L1365.8,658.4 L1367.4,658.3 L1369.1,658.1 L1370.7,658.0 L1372.3,657.8 L1374.0,657.7 L1375.6,657.5 L1377.3,657.3 L1378.9,657.2 L1380.6,657.0 L1382.2,656.8 L1383.8,656.6 L1385.5,656.4 L1387.1,656.2 L1388.8,656.0 L1390.4,655.7 L1392.1,655.5 L1393.7,655.3 L1395.4,655.0 L1397.0,654.7 L1398.6,654.5 L1400.3,654.2 L1401.9,653.9 L1403.6,653.6 L1405.2,653.3 L1406.9,653.0 L1408.5,652.6 L1410.1,652.3 L1411.8,652.0 L1413.4,651.6 L1415.1,651.2 L1416.7,650.8 L1418.4,650.4 L1420.0,650.0 L1421.6,649.6 L1423.3,649.1 L1424.9,648.7 L1426.6,648.2 L1428.2,647.7 L1429.9,647.3 L1431.5,646.7 L1433.2,646.2 L1434.8,645.7 L1436.4,645.1 L1438.1,644.5 L1439.7,643.9 L1441.4,643.3 L1443.0,642.7 L1444.7,642.1 L1446.3,641.4 L1447.9,640.7 L1449.6,640.0 L1451.2,639.3 L1452.8,638.6 L1454.4,637.8 L1455.9,637.0 L1457.5,636.3 L1459.1,635.4 L1460.7,634.6 L1462.2,633.7 L1463.8,632.9 L1465.4,631.9 L1467.0,631.0 L1468.6,630.1 L1470.1,629.1 L1471.7,628.1 L1473.3,627.1 L1474.9,626.0 L1476.5,625.0 L1478.1,623.9 L1479.6,622.7 L1481.2,621.6 L1482.8,620.4 L1484.4,619.2 L1486.0,618.0 L1487.6,616.7 L1489.2,615.5 L1490.7,614.1 L1492.3,612.8 L1493.9,611.4 L1495.5,610.0 L1497.1,608.6 L1498.7,607.2 L1500.3,605.7 L1501.9,604.2 L1503.5,602.6 L1505.1,601.1 L1506.7,599.5 L1508.3,597.8 L1509.9,596.2 L1511.4,594.5 L1513.0,592.8 L1514.6,591.0 L1516.2,589.2 L1517.8,587.4 L1519.4,585.5 L1521.0,583.7 L1522.6,581.7 L1524.2,579.8 L1525.8,577.8 L1527.4,575.8 L1529.0,573.8 L1530.6,571.7 L1532.3,569.6 L1533.9,567.4 L1535.5,565.3 L1537.1,563.1 L1538.7,560.8 L1540.3,558.6 L1541.9,556.2 L1543.5,553.9 L1545.1,551.5 L1546.7,549.1 L1548.3,546.7 L1549.9,544.2 L1551.5,541.7 L1553.1,539.2 L1554.8,536.7 L1556.4,534.1 L1558.0,531.4 L1559.6,528.8 L1561.2,526.1 L1562.8,523.4 L1564.4,520.7 L1566.1,517.9 L1567.7,515.1 L1569.3,512.2 L1570.9,509.4 L1572.5,506.5 L1574.1,503.6 L1575.8,500.6 L1577.4,497.7 L1579.0,494.7 L1580.6,491.6 L1582.3,488.6 L1583.9,485.5 L1585.5,482.4 L1587.1,479.3 L1588.7,476.1 L1590.4,473.0 L1592.0,469.8 L1593.6,466.5 L1595.2,463.3 L1596.9,460.0 L1598.5,456.7 L1600.1,453.4 L1601.8,450.1 L1603.4,446.8 L1605.0,443.4 L1606.6,440.0 L1608.3,436.7 L1609.9,433.2 L1611.5,429.8 L1613.2,426.4 L1614.8,422.9 L1616.4,419.5 L1618.1,416.0 L1619.7,412.5 L1621.3,409.0 L1623.0,405.5 L1624.6,401.9 L1626.3,398.4 L1627.9,394.9 L1629.5,391.3 L1631.2,387.8 L1632.8,384.2 L1634.5,380.7 L1636.1,377.1 L1637.7,373.5 L1639.4,369.9 L1641.0,366.4 L1642.7,362.8 L1644.3,359.2 L1646.0,355.7 L1647.6,352.1 L1649.2,348.5 L1650.9,344.9 L1652.5,341.4 L1654.2,337.8 L1655.8,334.3 L1657.5,330.7 L1659.1,327.2 L1660.8,323.7 L1662.4,320.1 L1664.1,316.6 L1665.7,313.1 L1667.4,309.6 L1669.0,306.1 L1670.7,302.7 L1672.3,299.2 L1674.0,295.8 L1675.7,292.4 L1677.3,288.9 L1679.0,285.6 L1680.6,282.2 L1682.3,278.8 L1683.9,275.5 L1685.6,272.2 L1687.3,268.9 L1688.9,265.6 L1690.6,262.3 L1692.2,259.1 L1693.9,255.8 L1695.6,252.6 L1697.2,249.5 L1698.9,246.3 L1700.5,243.2 L1702.2,240.1 L1703.9,237.0 L1705.5,234.0 L1707.2,230.9 L1708.9,227.9 L1710.5,225.0 L1712.2,222.0 L1713.9,219.1 L1715.5,216.2 L1717.2,213.4 L1718.9,210.5 L1720.6,207.7 L1722.2,204.9 L1723.9,202.2 L1725.6,199.5 L1727.2,196.8 L1728.9,194.2 L1730.6,191.5 L1732.3,188.9 L1733.9,186.4 L1735.6,183.9 L1737.3,181.4 L1739.0,178.9 L1740.7,176.5 L1742.3,174.1 L1744.0,171.7 L1745.7,169.4 L1747.4,167.0 L1749.1,164.8 L1750.7,162.5 L1752.4,160.3 L1754.1,158.2 L1755.8,156.0 L1757.5,153.9 L1759.1,151.8 L1760.8,149.8 L1762.5,147.8 L1764.2,145.8 L1765.9,143.9 L1767.6,141.9 L1769.3,140.1 L1771.0,138.2 L1772.6,136.4 L1774.3,134.6 L1776.0,132.8 L1777.7,131.1 L1779.4,129.4 L1781.1,127.8 L1782.8,126.1 L1784.5,124.5 L1786.2,123.0 L1787.9,121.4 L1789.6,119.9 L1791.3,118.4 L1793.0,117.0 L1794.7,115.6 L1796.4,114.2 L1798.0,112.8 L1799.7,111.5 L1801.4,110.1 L1803.1,108.9 L1804.8,107.6 L1806.5,106.4 L1808.2,105.2 L1810.0,104.0 L1811.7,102.9 L1813.4,101.7 L1815.1,100.6 L1816.8,99.6 L1818.5,98.5 L1820.2,97.5 L1821.9,96.5 L1823.6,95.5 L1825.3,94.6 L1827.0,93.7 L1828.7,92.7 L1830.4,91.9 L1832.1,91.0 L1833.8,90.2 L1835.5,89.3 L1837.3,88.6 L1839.0,87.8 L1840.7,87.0 L1842.4,86.3 L1844.1,85.6 L1845.7,84.9 L1847.3,84.2 L1849.0,83.5 L1850.6,82.9 L1852.3,82.3 L1853.9,81.7 L1855.6,81.1 L1857.2,80.5 L1858.8,79.9 L1860.5,79.4 L1862.1,78.9 L1863.8,78.3 L1865.4,77.9 L1867.1,77.4 L1868.7,76.9 L1870.4,76.5 L1872.0,76.0 L1873.6,75.6 L1875.3,75.2 L1876.9,74.8 L1878.6,74.4 L1880.2,74.0 L1881.9,73.6 L1883.5,73.3 L1885.1,73.0 L1886.8,72.6 L1888.4,72.3 L1890.1,72.0 L1891.7,71.7 L1893.4,71.4 L1895.0,71.1 L1896.7,70.9 L1898.3,70.6 L1899.9,70.3 L1901.6,70.1 L1903.2,69.9 L1904.9,69.6 L1906.5,69.4 L1908.2,69.2 L1909.8,69.0 L1911.4,68.8 L1913.1,68.6 L1914.7,68.4 L1916.4,68.3 L1918.0,68.1 L1919.7,67.9 L1921.3,67.8 L1923.0,67.6 L1924.6,67.5 L1926.2,67.3 L1927.9,67.2 L1929.5,67.1 L1931.2,66.9 L1932.8,66.8 L1934.5,66.7 L1936.1,66.6 L1937.7,66.5 L1939.4,66.4 L1941.0,66.3 L1942.7,66.2 L1944.3,66.1 L1946.0,66.0 L1947.6,65.9 L1949.2,65.8 L1950.9,65.7 L1952.5,65.7 L1954.2,65.6 L1955.8,65.5 L1957.5,65.5 L1959.1,65.4 L1960.8,65.3 L1962.4,65.3 L1964.0,65.2 L1965.7,65.2 L1967.3,65.1 L1969.0,65.1 L1970.6,65.0 L1972.3,65.0 L1973.9,64.9 L1975.5,64.9 L1977.2,64.9 L1978.8,64.8 L1980.5,64.8 L1982.1,64.8 L1983.8,64.7 L1985.4,64.7 L1987.1,64.7 L1988.7,64.6 L1990.3,64.6 L1992.0,64.6 L1993.6,64.6 L1995.3,64.5 L1996.9,64.5 L1998.6,64.5 L2000.2,64.5 L2001.8,64.5 L2003.5,64.4 L2005.1,64.4 L2006.8,64.4 L2008.4,64.4 L2010.1,64.4 L2011.7,64.4 L2013.3,64.3 L2015.0,64.3 L2016.6,64.3 L2018.3,64.3 L2019.9,64.3 L2021.6,64.3 L2023.2,64.3 L2024.9,64.3 L2026.5,64.3 L2028.1,64.2 L2029.8,64.2 L2031.4,64.2 L2033.1,64.2 L2034.7,64.2 L2036.4,64.2 L2038.0,64.2 L2039.6,64.2 L2041.3,64.2 L2042.9,64.2 L2044.6,64.2 L2046.2,64.2 L2047.9,64.2 L2049.5,64.2 L2051.2,64.2 L2052.8,64.2 L2054.4,64.2 L2056.1,64.2 L2057.7,64.2 L2059.4,64.1 L2061.0,64.1 L2062.7,64.1 L2064.3,64.1 L2065.9,64.1 L2067.6,64.1 L2069.2,64.1 L2070.9,64.1 L2072.5,64.1 L2074.2,64.1 L2075.8,64.1 L2077.5,64.1 L2078.8,64.1"/>
</g>
<g stroke="#000" stroke-width="2.5" fill="none" stroke-linecap="butt">
<path d="M108.8,4.3 H1090.5 M108.8,724.0 H1090.5 M110.0,4.3 V724.0 M1087.0,4.3 V724.0"/>
<path d="M1235.2,4.3 H2130.0 M1235.2,721.2 H2130.0 M1236.4,1.0 V721.2 M2126.5,1.0 V721.2"/>
<path d="M127.2,724.0 V715.0 M189.2,724.0 V708.0 M251.2,724.0 V715.0 M313.2,724.0 V708.0 M375.2,724.0 V715.0 M437.2,724.0 V708.0 M499.2,724.0 V715.0 M561.2,724.0 V708.0 M623.2,724.0 V715.0 M685.2,724.0 V708.0 M747.2,724.0 V715.0 M809.2,724.0 V708.0 M871.2,724.0 V715.0 M933.2,724.0 V708.0 M995.2,724.0 V715.0 M1057.2,724.0 V708.0 M110.0,699.2 H123.4 M110.0,640.6 H115.8 M110.0,582.0 H123.4 M110.0,523.4 H115.8 M110.0,464.8 H123.4 M110.0,406.2 H115.8 M110.0,347.6 H123.4 M110.0,289.0 H115.8 M110.0,230.4 H123.4 M110.0,171.8 H115.8 M110.0,113.2 H123.4 M110.0,54.6 H115.8 "/>
<path d="M1292.5,721.2 V707.9 M1348.2,721.2 V715.1 M1404.0,721.2 V707.9 M1459.7,721.2 V715.1 M1515.4,721.2 V707.9 M1571.1,721.2 V715.1 M1626.9,721.2 V707.9 M1682.6,721.2 V715.1 M1738.3,721.2 V707.9 M1794.1,721.2 V715.1 M1849.8,721.2 V707.9 M1905.5,721.2 V715.1 M1961.2,721.2 V707.9 M2017.0,721.2 V715.1 M2072.7,721.2 V707.9 M1236.4,660.2 H1249.5 M1236.4,600.5 H1242.6 M1236.4,540.7 H1249.5 M1236.4,481.0 H1242.6 M1236.4,421.2 H1249.5 M1236.4,361.5 H1242.6 M1236.4,301.8 H1249.5 M1236.4,242.0 H1242.6 M1236.4,182.3 H1249.5 M1236.4,122.5 H1242.6 M1236.4,62.8 H1249.5 "/>
</g>
<g font-family='"Liberation Serif", serif' fill="#1a1a1a" stroke="#fff" stroke-width="0.38" filter="url(#soft)">
<text x="189.2" y="762.3" font-size="32.5" fill="#1a1a1a" stroke="#fff" stroke-width="0.4" text-anchor="middle">1.16</text>
<text x="313.2" y="762.3" font-size="32.5" fill="#1a1a1a" stroke="#fff" stroke-width="0.4" text-anchor="middle">1.18</text>
<text x="437.2" y="762.3" font-size="32.5" fill="#1a1a1a" stroke="#fff" stroke-width="0.4" text-anchor="middle">1.20</text>
<text x="561.2" y="762.3" font-size="32.5" fill="#1a1a1a" stroke="#fff" stroke-width="0.4" text-anchor="middle">1.22</text>
<text x="685.2" y="762.3" font-size="32.5" fill="#1a1a1a" stroke="#fff" stroke-width="0.4" text-anchor="middle">1.24</text>
<text x="809.2" y="762.3" font-size="32.5" fill="#1a1a1a" stroke="#fff" stroke-width="0.4" text-anchor="middle">1.26</text>
<text x="933.2" y="762.3" font-size="32.5" fill="#1a1a1a" stroke="#fff" stroke-width="0.4" text-anchor="middle">1.28</text>
<text x="1057.2" y="762.3" font-size="32.5" fill="#1a1a1a" stroke="#fff" stroke-width="0.4" text-anchor="middle">1.30</text>
<text x="91.3" y="707.2" font-size="32.5" fill="#1a1a1a" stroke="#fff" stroke-width="0.4" text-anchor="end">0</text>
<text x="91.3" y="590.0" font-size="32.5" fill="#1a1a1a" stroke="#fff" stroke-width="0.4" text-anchor="end">5</text>
<text x="91.3" y="472.8" font-size="32.5" fill="#1a1a1a" stroke="#fff" stroke-width="0.4" text-anchor="end">10</text>
<text x="91.3" y="355.6" font-size="32.5" fill="#1a1a1a" stroke="#fff" stroke-width="0.4" text-anchor="end">15</text>
<text x="91.3" y="238.4" font-size="32.5" fill="#1a1a1a" stroke="#fff" stroke-width="0.4" text-anchor="end">20</text>
<text x="91.3" y="121.2" font-size="32.5" fill="#1a1a1a" stroke="#fff" stroke-width="0.4" text-anchor="end">25</text>
<text x="1291.5" y="758.6" font-size="31.5" fill="#1a1a1a" stroke="#fff" stroke-width="0.4" text-anchor="middle">1.16</text>
<text x="1403.0" y="758.6" font-size="31.5" fill="#1a1a1a" stroke="#fff" stroke-width="0.4" text-anchor="middle">1.18</text>
<text x="1514.4" y="758.6" font-size="31.5" fill="#1a1a1a" stroke="#fff" stroke-width="0.4" text-anchor="middle">1.20</text>
<text x="1625.9" y="758.6" font-size="31.5" fill="#1a1a1a" stroke="#fff" stroke-width="0.4" text-anchor="middle">1.22</text>
<text x="1737.3" y="758.6" font-size="31.5" fill="#1a1a1a" stroke="#fff" stroke-width="0.4" text-anchor="middle">1.24</text>
<text x="1848.8" y="758.6" font-size="31.5" fill="#1a1a1a" stroke="#fff" stroke-width="0.4" text-anchor="middle">1.26</text>
<text x="1960.2" y="758.6" font-size="31.5" fill="#1a1a1a" stroke="#fff" stroke-width="0.4" text-anchor="middle">1.28</text>
<text x="2071.7" y="758.6" font-size="31.5" fill="#1a1a1a" stroke="#fff" stroke-width="0.4" text-anchor="middle">1.30</text>
<text x="1218.5" y="668.5" font-size="31.5" fill="#1a1a1a" stroke="#fff" stroke-width="0.4" text-anchor="end">0.0</text>
<text x="1218.5" y="549.0" font-size="31.5" fill="#1a1a1a" stroke="#fff" stroke-width="0.4" text-anchor="end">0.2</text>
<text x="1218.5" y="429.5" font-size="31.5" fill="#1a1a1a" stroke="#fff" stroke-width="0.4" text-anchor="end">0.4</text>
<text x="1218.5" y="310.1" font-size="31.5" fill="#1a1a1a" stroke="#fff" stroke-width="0.4" text-anchor="end">0.6</text>
<text x="1218.5" y="190.6" font-size="31.5" fill="#1a1a1a" stroke="#fff" stroke-width="0.4" text-anchor="end">0.8</text>
<text x="1218.5" y="71.1" font-size="31.5" fill="#1a1a1a" stroke="#fff" stroke-width="0.4" text-anchor="end">1.0</text>
<text x="602.2" y="822.2" font-size="42" text-anchor="middle">Safty factor</text>
<text x="1682.3" y="825.6" font-size="41.5" text-anchor="middle">Safty factor</text>
<text transform="translate(32.6,372.8) rotate(-90)" font-size="41.5" text-anchor="middle">Probability density function</text>
<text transform="translate(1146.6,664.2) rotate(-90)" font-size="41"><tspan letter-spacing="-0.7">Cumulative</tspan><tspan dx="5.5"> distribution</tspan><tspan dx="1.5"> function</tspan></text>
<text transform="translate(1081.3,41.6) scale(1.05,1)" font-size="38" fill="#1a1a1a" stroke-width="0.5" text-anchor="end">(a)</text>
<text transform="translate(2125.2,37.0) scale(1.05,1)" font-size="38" fill="#1a1a1a" stroke-width="0.5" text-anchor="end">(b)</text>
</g>
<path d="M135.8,32.8 H214.9" stroke="#7499BF" stroke-width="5.2" fill="none"/>
<text x="230.5" y="45.2" font-family='"Liberation Serif", serif' font-size="37.0" fill="#1a1a1a" stroke="#fff" stroke-width="0.4" filter="url(#soft)"><tspan font-style="italic" font-size="40.0">l</tspan><tspan font-size="26.0" font-weight="bold" dx="0.0" dy="10.4">x</tspan><tspan dx="-1.0" dy="-10.4" letter-spacing="1.20" stroke="#1a1a1a" stroke-width="0.7">=</tspan><tspan letter-spacing="1.20">10m</tspan></text>
<path d="M135.8,87.3 H214.9" stroke="#F4A56F" stroke-width="5.2" fill="none"/>
<text x="230.5" y="101.3" font-family='"Liberation Serif", serif' font-size="37.0" fill="#1a1a1a" stroke="#fff" stroke-width="0.4" filter="url(#soft)"><tspan font-style="italic" font-size="40.0">l</tspan><tspan font-size="26.0" font-weight="bold" dx="0.0" dy="10.4">x</tspan><tspan dx="-1.0" dy="-10.4" letter-spacing="1.20" stroke="#1a1a1a" stroke-width="0.7">=</tspan><tspan letter-spacing="1.20">20m</tspan></text>
<path d="M135.8,144.1 H214.9" stroke="#C98BB8" stroke-width="5.2" fill="none"/>
<text x="230.5" y="156.7" font-family='"Liberation Serif", serif' font-size="37.0" fill="#1a1a1a" stroke="#fff" stroke-width="0.4" filter="url(#soft)"><tspan font-style="italic" font-size="40.0">l</tspan><tspan font-size="26.0" font-weight="bold" dx="0.0" dy="10.4">x</tspan><tspan dx="-1.0" dy="-10.4" letter-spacing="1.20" stroke="#1a1a1a" stroke-width="0.7">=</tspan><tspan letter-spacing="1.20">30m</tspan></text>
<path d="M135.8,198.4 H214.9" stroke="#3F3A75" stroke-width="5.2" fill="none"/>
<text x="230.5" y="212.7" font-family='"Liberation Serif", serif' font-size="37.0" fill="#1a1a1a" stroke="#fff" stroke-width="0.4" filter="url(#soft)"><tspan font-style="italic" font-size="40.0">l</tspan><tspan font-size="26.0" font-weight="bold" dx="0.0" dy="10.4">x</tspan><tspan dx="-1.0" dy="-10.4" letter-spacing="1.20" stroke="#1a1a1a" stroke-width="0.7">=</tspan><tspan letter-spacing="1.20">40m</tspan></text>
<path d="M1249.8,29.8 H1328.0" stroke="#7499BF" stroke-width="5.2" fill="none"/>
<text x="1343.0" y="41.6" font-family='"Liberation Serif", serif' font-size="35.3" fill="#1a1a1a" stroke="#fff" stroke-width="0.4" filter="url(#soft)"><tspan font-style="italic" font-size="38.0">l</tspan><tspan font-size="25.0" font-weight="bold" dx="0.0" dy="9.9">x</tspan><tspan dx="-1.0" dy="-9.9" letter-spacing="1.10" stroke="#1a1a1a" stroke-width="0.7">=</tspan><tspan letter-spacing="1.10">10m</tspan></text>
<path d="M1249.8,83.5 H1328.0" stroke="#F4A56F" stroke-width="5.2" fill="none"/>
<text x="1343.0" y="95.4" font-family='"Liberation Serif", serif' font-size="35.3" fill="#1a1a1a" stroke="#fff" stroke-width="0.4" filter="url(#soft)"><tspan font-style="italic" font-size="38.0">l</tspan><tspan font-size="25.0" font-weight="bold" dx="0.0" dy="9.9">x</tspan><tspan dx="-1.0" dy="-9.9" letter-spacing="1.10" stroke="#1a1a1a" stroke-width="0.7">=</tspan><tspan letter-spacing="1.10">20m</tspan></text>
<path d="M1249.8,137.3 H1328.0" stroke="#C98BB8" stroke-width="5.2" fill="none"/>
<text x="1343.0" y="149.1" font-family='"Liberation Serif", serif' font-size="35.3" fill="#1a1a1a" stroke="#fff" stroke-width="0.4" filter="url(#soft)"><tspan font-style="italic" font-size="38.0">l</tspan><tspan font-size="25.0" font-weight="bold" dx="0.0" dy="9.9">x</tspan><tspan dx="-1.0" dy="-9.9" letter-spacing="1.10" stroke="#1a1a1a" stroke-width="0.7">=</tspan><tspan letter-spacing="1.10">30m</tspan></text>
<path d="M1249.8,190.8 H1328.0" stroke="#3F3A75" stroke-width="5.2" fill="none"/>
<text x="1343.0" y="202.2" font-family='"Liberation Serif", serif' font-size="35.3" fill="#1a1a1a" stroke="#fff" stroke-width="0.4" filter="url(#soft)"><tspan font-style="italic" font-size="38.0">l</tspan><tspan font-size="25.0" font-weight="bold" dx="0.0" dy="9.9">x</tspan><tspan dx="-1.0" dy="-9.9" letter-spacing="1.10" stroke="#1a1a1a" stroke-width="0.7">=</tspan><tspan letter-spacing="1.10">40m</tspan></text>
</svg>
</body></html>
